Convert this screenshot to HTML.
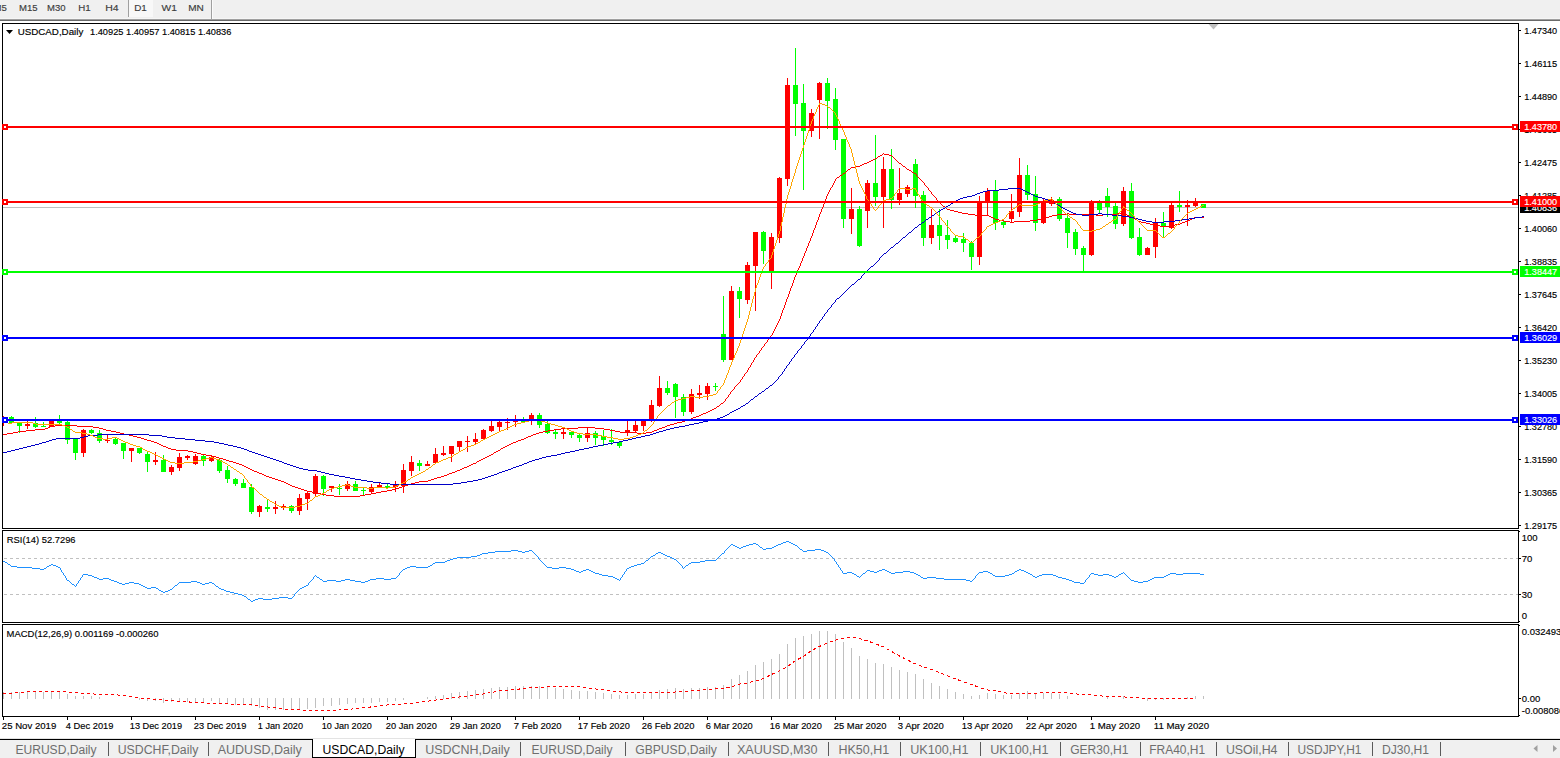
<!DOCTYPE html>
<html><head><meta charset="utf-8"><title>USDCAD,Daily</title>
<style>html,body{margin:0;padding:0;background:#fff;overflow:hidden}svg text{white-space:pre}</style></head>
<body>
<svg width="1560" height="758" viewBox="0 0 1560 758" font-family="Liberation Sans, sans-serif" style="display:block">
<rect x="0" y="0" width="1560" height="758" fill="#fff"/>
<rect x="0" y="0" width="1560" height="18" fill="#f0f0f0"/>
<rect x="0" y="18" width="1560" height="1" fill="#f6f6f6"/>
<rect x="0" y="19" width="1560" height="1" fill="#a0a0a0"/>
<rect x="0" y="20" width="1560" height="1" fill="#696969"/>
<rect x="129" y="0" width="24" height="17" fill="#f8f8f8"/>
<rect x="128" y="0" width="1" height="17" fill="#a0a0a0"/>
<rect x="211" y="0" width="1" height="19" fill="#a0a0a0"/>
<rect x="212" y="0" width="1" height="19" fill="#fbfbfb"/>
<text x="-6.5" y="10.8" font-size="9.6" fill="#3c3c3c" stroke="#3c3c3c" stroke-width="0.15">M5</text>
<text x="19.0" y="10.8" font-size="9.6" fill="#3c3c3c" stroke="#3c3c3c" stroke-width="0.15" textLength="18.6" lengthAdjust="spacingAndGlyphs">M15</text>
<text x="47.1" y="10.8" font-size="9.6" fill="#3c3c3c" stroke="#3c3c3c" stroke-width="0.15" textLength="18.5" lengthAdjust="spacingAndGlyphs">M30</text>
<text x="78.15" y="10.8" font-size="9.6" fill="#3c3c3c" stroke="#3c3c3c" stroke-width="0.15" textLength="12.45" lengthAdjust="spacingAndGlyphs">H1</text>
<text x="105.2" y="10.8" font-size="9.6" fill="#3c3c3c" stroke="#3c3c3c" stroke-width="0.15" textLength="13.4" lengthAdjust="spacingAndGlyphs">H4</text>
<text x="134.2" y="10.8" font-size="9.6" fill="#3c3c3c" stroke="#3c3c3c" stroke-width="0.15" textLength="12.65" lengthAdjust="spacingAndGlyphs">D1</text>
<text x="161.5" y="10.8" font-size="9.6" fill="#3c3c3c" stroke="#3c3c3c" stroke-width="0.15" textLength="15.35" lengthAdjust="spacingAndGlyphs">W1</text>
<text x="188.15" y="10.8" font-size="9.6" fill="#3c3c3c" stroke="#3c3c3c" stroke-width="0.15" textLength="15.65" lengthAdjust="spacingAndGlyphs">MN</text>
<defs><clipPath id="cm"><rect x="3" y="24" width="1515" height="504"/></clipPath><clipPath id="cr"><rect x="3" y="531" width="1515" height="91"/></clipPath><clipPath id="cd"><rect x="3" y="625" width="1515" height="91"/></clipPath></defs>
<g clip-path="url(#cm)" shape-rendering="crispEdges">
<rect x="3" y="207" width="1515" height="1" fill="#c0c0c0"/>
<rect x="3" y="416" width="1" height="10" fill="#ff0000"/>
<rect x="11" y="416" width="1" height="7" fill="#00ff00"/>
<rect x="9" y="417" width="5" height="6" fill="#00ff00"/>
<rect x="19" y="423" width="1" height="10" fill="#00ff00"/>
<rect x="17" y="423" width="5" height="3" fill="#00ff00"/>
<rect x="27" y="421" width="1" height="8" fill="#ff0000"/>
<rect x="25" y="424" width="5" height="2" fill="#ff0000"/>
<rect x="35" y="417" width="1" height="11" fill="#00ff00"/>
<rect x="33" y="423" width="5" height="4" fill="#00ff00"/>
<rect x="43" y="422" width="1" height="5" fill="#00ff00"/>
<rect x="41" y="426" width="5" height="1" fill="#00ff00"/>
<rect x="51" y="421" width="1" height="6" fill="#ff0000"/>
<rect x="49" y="421" width="5" height="6" fill="#ff0000"/>
<rect x="59" y="415" width="1" height="11" fill="#00ff00"/>
<rect x="57" y="421" width="5" height="2" fill="#00ff00"/>
<rect x="67" y="421" width="1" height="23" fill="#00ff00"/>
<rect x="65" y="422" width="5" height="18" fill="#00ff00"/>
<rect x="75" y="439" width="1" height="21" fill="#00ff00"/>
<rect x="73" y="439" width="5" height="14" fill="#00ff00"/>
<rect x="83" y="429" width="1" height="28" fill="#ff0000"/>
<rect x="81" y="430" width="5" height="23" fill="#ff0000"/>
<rect x="91" y="429" width="1" height="5" fill="#00ff00"/>
<rect x="89" y="430" width="5" height="3" fill="#00ff00"/>
<rect x="99" y="430" width="1" height="13" fill="#00ff00"/>
<rect x="97" y="433" width="5" height="8" fill="#00ff00"/>
<rect x="107" y="435" width="1" height="8" fill="#ff0000"/>
<rect x="105" y="440" width="5" height="1" fill="#ff0000"/>
<rect x="115" y="438" width="1" height="7" fill="#00ff00"/>
<rect x="113" y="439" width="5" height="5" fill="#00ff00"/>
<rect x="123" y="443" width="1" height="16" fill="#00ff00"/>
<rect x="121" y="443" width="5" height="8" fill="#00ff00"/>
<rect x="131" y="448" width="1" height="14" fill="#ff0000"/>
<rect x="129" y="448" width="5" height="3" fill="#ff0000"/>
<rect x="139" y="448" width="1" height="6" fill="#00ff00"/>
<rect x="137" y="448" width="5" height="5" fill="#00ff00"/>
<rect x="147" y="452" width="1" height="20" fill="#00ff00"/>
<rect x="145" y="454" width="5" height="8" fill="#00ff00"/>
<rect x="155" y="452" width="1" height="13" fill="#ff0000"/>
<rect x="153" y="460" width="5" height="2" fill="#ff0000"/>
<rect x="163" y="455" width="1" height="17" fill="#00ff00"/>
<rect x="161" y="460" width="5" height="12" fill="#00ff00"/>
<rect x="171" y="465" width="1" height="10" fill="#ff0000"/>
<rect x="169" y="467" width="5" height="5" fill="#ff0000"/>
<rect x="179" y="453" width="1" height="18" fill="#ff0000"/>
<rect x="177" y="457" width="5" height="11" fill="#ff0000"/>
<rect x="187" y="455" width="1" height="5" fill="#ff0000"/>
<rect x="185" y="456" width="5" height="2" fill="#ff0000"/>
<rect x="195" y="454" width="1" height="11" fill="#ff0000"/>
<rect x="193" y="456" width="5" height="8" fill="#ff0000"/>
<rect x="203" y="455" width="1" height="11" fill="#00ff00"/>
<rect x="201" y="456" width="5" height="5" fill="#00ff00"/>
<rect x="211" y="456" width="1" height="6" fill="#ff0000"/>
<rect x="209" y="457" width="5" height="4" fill="#ff0000"/>
<rect x="219" y="459" width="1" height="14" fill="#00ff00"/>
<rect x="217" y="460" width="5" height="11" fill="#00ff00"/>
<rect x="227" y="466" width="1" height="17" fill="#00ff00"/>
<rect x="225" y="470" width="5" height="9" fill="#00ff00"/>
<rect x="235" y="478" width="1" height="8" fill="#00ff00"/>
<rect x="233" y="479" width="5" height="5" fill="#00ff00"/>
<rect x="243" y="479" width="1" height="9" fill="#00ff00"/>
<rect x="241" y="483" width="5" height="5" fill="#00ff00"/>
<rect x="251" y="484" width="1" height="30" fill="#00ff00"/>
<rect x="249" y="487" width="5" height="25" fill="#00ff00"/>
<rect x="259" y="505" width="1" height="12" fill="#ff0000"/>
<rect x="257" y="506" width="5" height="6" fill="#ff0000"/>
<rect x="267" y="500" width="1" height="12" fill="#00ff00"/>
<rect x="265" y="507" width="5" height="2" fill="#00ff00"/>
<rect x="275" y="501" width="1" height="13" fill="#ff0000"/>
<rect x="273" y="507" width="5" height="2" fill="#ff0000"/>
<rect x="283" y="504" width="1" height="6" fill="#ff0000"/>
<rect x="281" y="506" width="5" height="2" fill="#ff0000"/>
<rect x="291" y="505" width="1" height="8" fill="#00ff00"/>
<rect x="289" y="506" width="5" height="5" fill="#00ff00"/>
<rect x="299" y="494" width="1" height="21" fill="#ff0000"/>
<rect x="297" y="498" width="5" height="13" fill="#ff0000"/>
<rect x="307" y="492" width="1" height="18" fill="#ff0000"/>
<rect x="305" y="493" width="5" height="6" fill="#ff0000"/>
<rect x="315" y="474" width="1" height="23" fill="#ff0000"/>
<rect x="313" y="476" width="5" height="18" fill="#ff0000"/>
<rect x="323" y="475" width="1" height="21" fill="#00ff00"/>
<rect x="321" y="476" width="5" height="13" fill="#00ff00"/>
<rect x="331" y="486" width="1" height="6" fill="#ff0000"/>
<rect x="329" y="486" width="5" height="2" fill="#ff0000"/>
<rect x="339" y="484" width="1" height="11" fill="#00ff00"/>
<rect x="337" y="488" width="5" height="1" fill="#00ff00"/>
<rect x="347" y="481" width="1" height="10" fill="#ff0000"/>
<rect x="345" y="484" width="5" height="5" fill="#ff0000"/>
<rect x="355" y="481" width="1" height="10" fill="#00ff00"/>
<rect x="353" y="484" width="5" height="7" fill="#00ff00"/>
<rect x="363" y="487" width="1" height="8" fill="#00ff00"/>
<rect x="361" y="490" width="5" height="1" fill="#00ff00"/>
<rect x="371" y="484" width="1" height="10" fill="#ff0000"/>
<rect x="369" y="487" width="5" height="5" fill="#ff0000"/>
<rect x="379" y="482" width="1" height="6" fill="#ff0000"/>
<rect x="377" y="485" width="5" height="3" fill="#ff0000"/>
<rect x="387" y="484" width="1" height="4" fill="#00ff00"/>
<rect x="385" y="486" width="5" height="2" fill="#00ff00"/>
<rect x="395" y="481" width="1" height="11" fill="#ff0000"/>
<rect x="393" y="484" width="5" height="3" fill="#ff0000"/>
<rect x="403" y="464" width="1" height="29" fill="#ff0000"/>
<rect x="401" y="470" width="5" height="16" fill="#ff0000"/>
<rect x="411" y="456" width="1" height="20" fill="#ff0000"/>
<rect x="409" y="462" width="5" height="9" fill="#ff0000"/>
<rect x="419" y="460" width="1" height="11" fill="#00ff00"/>
<rect x="417" y="463" width="5" height="3" fill="#00ff00"/>
<rect x="427" y="461" width="1" height="5" fill="#ff0000"/>
<rect x="425" y="464" width="5" height="2" fill="#ff0000"/>
<rect x="435" y="448" width="1" height="15" fill="#ff0000"/>
<rect x="433" y="454" width="5" height="9" fill="#ff0000"/>
<rect x="443" y="446" width="1" height="10" fill="#ff0000"/>
<rect x="441" y="453" width="5" height="2" fill="#ff0000"/>
<rect x="451" y="446" width="1" height="16" fill="#ff0000"/>
<rect x="449" y="446" width="5" height="8" fill="#ff0000"/>
<rect x="459" y="441" width="1" height="10" fill="#ff0000"/>
<rect x="457" y="441" width="5" height="6" fill="#ff0000"/>
<rect x="467" y="436" width="1" height="16" fill="#ff0000"/>
<rect x="465" y="441" width="5" height="1" fill="#ff0000"/>
<rect x="475" y="433" width="1" height="11" fill="#ff0000"/>
<rect x="473" y="439" width="5" height="3" fill="#ff0000"/>
<rect x="483" y="429" width="1" height="11" fill="#ff0000"/>
<rect x="481" y="430" width="5" height="9" fill="#ff0000"/>
<rect x="491" y="421" width="1" height="11" fill="#ff0000"/>
<rect x="489" y="426" width="5" height="5" fill="#ff0000"/>
<rect x="499" y="419" width="1" height="13" fill="#ff0000"/>
<rect x="497" y="422" width="5" height="5" fill="#ff0000"/>
<rect x="507" y="418" width="1" height="12" fill="#ff0000"/>
<rect x="505" y="422" width="5" height="1" fill="#ff0000"/>
<rect x="515" y="415" width="1" height="12" fill="#ff0000"/>
<rect x="513" y="420" width="5" height="2" fill="#ff0000"/>
<rect x="523" y="417" width="1" height="5" fill="#00ff00"/>
<rect x="521" y="419" width="5" height="3" fill="#00ff00"/>
<rect x="531" y="413" width="1" height="12" fill="#ff0000"/>
<rect x="529" y="415" width="5" height="6" fill="#ff0000"/>
<rect x="539" y="413" width="1" height="15" fill="#00ff00"/>
<rect x="537" y="415" width="5" height="10" fill="#00ff00"/>
<rect x="547" y="421" width="1" height="13" fill="#00ff00"/>
<rect x="545" y="424" width="5" height="9" fill="#00ff00"/>
<rect x="555" y="430" width="1" height="9" fill="#00ff00"/>
<rect x="553" y="432" width="5" height="2" fill="#00ff00"/>
<rect x="563" y="428" width="1" height="11" fill="#ff0000"/>
<rect x="561" y="432" width="5" height="2" fill="#ff0000"/>
<rect x="571" y="431" width="1" height="7" fill="#00ff00"/>
<rect x="569" y="432" width="5" height="3" fill="#00ff00"/>
<rect x="579" y="434" width="1" height="8" fill="#00ff00"/>
<rect x="577" y="435" width="5" height="3" fill="#00ff00"/>
<rect x="587" y="427" width="1" height="15" fill="#ff0000"/>
<rect x="585" y="433" width="5" height="5" fill="#ff0000"/>
<rect x="595" y="431" width="1" height="14" fill="#00ff00"/>
<rect x="593" y="433" width="5" height="5" fill="#00ff00"/>
<rect x="603" y="430" width="1" height="16" fill="#00ff00"/>
<rect x="601" y="436" width="5" height="4" fill="#00ff00"/>
<rect x="611" y="429" width="1" height="16" fill="#00ff00"/>
<rect x="609" y="440" width="5" height="2" fill="#00ff00"/>
<rect x="619" y="441" width="1" height="7" fill="#00ff00"/>
<rect x="617" y="442" width="5" height="4" fill="#00ff00"/>
<rect x="627" y="421" width="1" height="15" fill="#ff0000"/>
<rect x="625" y="430" width="5" height="3" fill="#ff0000"/>
<rect x="635" y="421" width="1" height="11" fill="#ff0000"/>
<rect x="633" y="425" width="5" height="6" fill="#ff0000"/>
<rect x="643" y="419" width="1" height="12" fill="#ff0000"/>
<rect x="641" y="421" width="5" height="5" fill="#ff0000"/>
<rect x="651" y="400" width="1" height="22" fill="#ff0000"/>
<rect x="649" y="405" width="5" height="15" fill="#ff0000"/>
<rect x="659" y="376" width="1" height="31" fill="#ff0000"/>
<rect x="657" y="388" width="5" height="18" fill="#ff0000"/>
<rect x="667" y="381" width="1" height="14" fill="#00ff00"/>
<rect x="665" y="388" width="5" height="5" fill="#00ff00"/>
<rect x="675" y="383" width="1" height="35" fill="#00ff00"/>
<rect x="673" y="384" width="5" height="13" fill="#00ff00"/>
<rect x="683" y="394" width="1" height="22" fill="#00ff00"/>
<rect x="681" y="397" width="5" height="15" fill="#00ff00"/>
<rect x="691" y="389" width="1" height="25" fill="#ff0000"/>
<rect x="689" y="394" width="5" height="18" fill="#ff0000"/>
<rect x="699" y="385" width="1" height="14" fill="#ff0000"/>
<rect x="697" y="393" width="5" height="2" fill="#ff0000"/>
<rect x="707" y="383" width="1" height="17" fill="#ff0000"/>
<rect x="705" y="386" width="5" height="8" fill="#ff0000"/>
<rect x="715" y="383" width="1" height="8" fill="#00ff00"/>
<rect x="713" y="386" width="5" height="1" fill="#00ff00"/>
<rect x="723" y="296" width="1" height="66" fill="#00ff00"/>
<rect x="721" y="334" width="5" height="26" fill="#00ff00"/>
<rect x="731" y="286" width="1" height="74" fill="#ff0000"/>
<rect x="729" y="291" width="5" height="69" fill="#ff0000"/>
<rect x="739" y="287" width="1" height="31" fill="#00ff00"/>
<rect x="737" y="291" width="5" height="8" fill="#00ff00"/>
<rect x="747" y="262" width="1" height="42" fill="#ff0000"/>
<rect x="745" y="265" width="5" height="35" fill="#ff0000"/>
<rect x="755" y="232" width="1" height="79" fill="#ff0000"/>
<rect x="753" y="232" width="5" height="34" fill="#ff0000"/>
<rect x="763" y="231" width="1" height="33" fill="#00ff00"/>
<rect x="761" y="232" width="5" height="19" fill="#00ff00"/>
<rect x="771" y="233" width="1" height="56" fill="#ff0000"/>
<rect x="769" y="237" width="5" height="35" fill="#ff0000"/>
<rect x="779" y="177" width="1" height="66" fill="#ff0000"/>
<rect x="777" y="178" width="5" height="60" fill="#ff0000"/>
<rect x="787" y="78" width="1" height="108" fill="#ff0000"/>
<rect x="785" y="85" width="5" height="94" fill="#ff0000"/>
<rect x="795" y="48" width="1" height="88" fill="#00ff00"/>
<rect x="793" y="85" width="5" height="19" fill="#00ff00"/>
<rect x="803" y="84" width="1" height="106" fill="#00ff00"/>
<rect x="801" y="103" width="5" height="28" fill="#00ff00"/>
<rect x="811" y="109" width="1" height="28" fill="#ff0000"/>
<rect x="809" y="113" width="5" height="18" fill="#ff0000"/>
<rect x="819" y="82" width="1" height="57" fill="#ff0000"/>
<rect x="817" y="83" width="5" height="17" fill="#ff0000"/>
<rect x="827" y="78" width="1" height="51" fill="#00ff00"/>
<rect x="825" y="83" width="5" height="18" fill="#00ff00"/>
<rect x="835" y="88" width="1" height="62" fill="#00ff00"/>
<rect x="833" y="99" width="5" height="41" fill="#00ff00"/>
<rect x="843" y="139" width="1" height="89" fill="#00ff00"/>
<rect x="841" y="139" width="5" height="80" fill="#00ff00"/>
<rect x="851" y="188" width="1" height="46" fill="#ff0000"/>
<rect x="849" y="209" width="5" height="10" fill="#ff0000"/>
<rect x="859" y="206" width="1" height="41" fill="#00ff00"/>
<rect x="857" y="209" width="5" height="37" fill="#00ff00"/>
<rect x="867" y="180" width="1" height="48" fill="#ff0000"/>
<rect x="865" y="183" width="5" height="28" fill="#ff0000"/>
<rect x="875" y="135" width="1" height="71" fill="#00ff00"/>
<rect x="873" y="183" width="5" height="14" fill="#00ff00"/>
<rect x="883" y="157" width="1" height="71" fill="#ff0000"/>
<rect x="881" y="169" width="5" height="28" fill="#ff0000"/>
<rect x="891" y="149" width="1" height="60" fill="#00ff00"/>
<rect x="889" y="169" width="5" height="31" fill="#00ff00"/>
<rect x="899" y="168" width="1" height="37" fill="#ff0000"/>
<rect x="897" y="193" width="5" height="7" fill="#ff0000"/>
<rect x="907" y="185" width="1" height="12" fill="#ff0000"/>
<rect x="905" y="187" width="5" height="7" fill="#ff0000"/>
<rect x="915" y="159" width="1" height="49" fill="#00ff00"/>
<rect x="913" y="164" width="5" height="32" fill="#00ff00"/>
<rect x="923" y="191" width="1" height="55" fill="#00ff00"/>
<rect x="921" y="195" width="5" height="43" fill="#00ff00"/>
<rect x="931" y="209" width="1" height="35" fill="#ff0000"/>
<rect x="929" y="225" width="5" height="13" fill="#ff0000"/>
<rect x="939" y="209" width="1" height="41" fill="#00ff00"/>
<rect x="937" y="225" width="5" height="11" fill="#00ff00"/>
<rect x="947" y="220" width="1" height="29" fill="#00ff00"/>
<rect x="945" y="235" width="5" height="5" fill="#00ff00"/>
<rect x="955" y="236" width="1" height="7" fill="#00ff00"/>
<rect x="953" y="238" width="5" height="4" fill="#00ff00"/>
<rect x="963" y="233" width="1" height="19" fill="#00ff00"/>
<rect x="961" y="239" width="5" height="4" fill="#00ff00"/>
<rect x="971" y="241" width="1" height="29" fill="#00ff00"/>
<rect x="969" y="243" width="5" height="14" fill="#00ff00"/>
<rect x="979" y="196" width="1" height="69" fill="#ff0000"/>
<rect x="977" y="202" width="5" height="55" fill="#ff0000"/>
<rect x="987" y="188" width="1" height="28" fill="#ff0000"/>
<rect x="985" y="191" width="5" height="11" fill="#ff0000"/>
<rect x="995" y="180" width="1" height="50" fill="#00ff00"/>
<rect x="993" y="191" width="5" height="32" fill="#00ff00"/>
<rect x="1003" y="221" width="1" height="7" fill="#00ff00"/>
<rect x="1001" y="222" width="5" height="3" fill="#00ff00"/>
<rect x="1011" y="194" width="1" height="29" fill="#ff0000"/>
<rect x="1009" y="211" width="5" height="8" fill="#ff0000"/>
<rect x="1019" y="158" width="1" height="59" fill="#ff0000"/>
<rect x="1017" y="175" width="5" height="37" fill="#ff0000"/>
<rect x="1027" y="165" width="1" height="35" fill="#00ff00"/>
<rect x="1025" y="175" width="5" height="20" fill="#00ff00"/>
<rect x="1035" y="176" width="1" height="55" fill="#00ff00"/>
<rect x="1033" y="194" width="5" height="29" fill="#00ff00"/>
<rect x="1043" y="199" width="1" height="25" fill="#ff0000"/>
<rect x="1041" y="202" width="5" height="21" fill="#ff0000"/>
<rect x="1051" y="197" width="1" height="9" fill="#ff0000"/>
<rect x="1049" y="200" width="5" height="4" fill="#ff0000"/>
<rect x="1059" y="197" width="1" height="24" fill="#00ff00"/>
<rect x="1057" y="199" width="5" height="20" fill="#00ff00"/>
<rect x="1067" y="213" width="1" height="35" fill="#00ff00"/>
<rect x="1065" y="218" width="5" height="15" fill="#00ff00"/>
<rect x="1075" y="229" width="1" height="26" fill="#00ff00"/>
<rect x="1073" y="232" width="5" height="17" fill="#00ff00"/>
<rect x="1083" y="246" width="1" height="26" fill="#00ff00"/>
<rect x="1081" y="248" width="5" height="7" fill="#00ff00"/>
<rect x="1091" y="200" width="1" height="56" fill="#ff0000"/>
<rect x="1089" y="202" width="5" height="53" fill="#ff0000"/>
<rect x="1099" y="200" width="1" height="14" fill="#00ff00"/>
<rect x="1097" y="203" width="5" height="7" fill="#00ff00"/>
<rect x="1107" y="188" width="1" height="29" fill="#00ff00"/>
<rect x="1105" y="196" width="5" height="11" fill="#00ff00"/>
<rect x="1115" y="203" width="1" height="26" fill="#00ff00"/>
<rect x="1113" y="206" width="5" height="18" fill="#00ff00"/>
<rect x="1123" y="187" width="1" height="39" fill="#ff0000"/>
<rect x="1121" y="191" width="5" height="33" fill="#ff0000"/>
<rect x="1131" y="183" width="1" height="56" fill="#00ff00"/>
<rect x="1129" y="191" width="5" height="47" fill="#00ff00"/>
<rect x="1139" y="228" width="1" height="28" fill="#00ff00"/>
<rect x="1137" y="237" width="5" height="18" fill="#00ff00"/>
<rect x="1147" y="247" width="1" height="8" fill="#ff0000"/>
<rect x="1145" y="248" width="5" height="7" fill="#ff0000"/>
<rect x="1155" y="218" width="1" height="40" fill="#ff0000"/>
<rect x="1153" y="223" width="5" height="24" fill="#ff0000"/>
<rect x="1163" y="212" width="1" height="25" fill="#00ff00"/>
<rect x="1161" y="223" width="5" height="4" fill="#00ff00"/>
<rect x="1171" y="203" width="1" height="26" fill="#ff0000"/>
<rect x="1169" y="205" width="5" height="23" fill="#ff0000"/>
<rect x="1179" y="191" width="1" height="21" fill="#00ff00"/>
<rect x="1177" y="205" width="5" height="2" fill="#00ff00"/>
<rect x="1187" y="200" width="1" height="26" fill="#ff0000"/>
<rect x="1185" y="205" width="5" height="2" fill="#ff0000"/>
<rect x="1195" y="198" width="1" height="9" fill="#ff0000"/>
<rect x="1193" y="202" width="5" height="4" fill="#ff0000"/>
<rect x="1203" y="204" width="1" height="4" fill="#00ff00"/>
<rect x="1201" y="204" width="5" height="4" fill="#00ff00"/>
<path d="M3 434h4v1h-4zM7 433h6v1h-6zM13 432h5v1h-5zM18 431h8v1h-8zM26 430h9v1h-9zM35 429h10v1h-10zM45 428h3v1h-3zM48 427h2v1h-2zM50 426h5v1h-5zM55 425h22v1h-22zM77 426h16v1h-16zM93 427h6v1h-6zM99 428h4v1h-4zM103 429h3v1h-3zM106 430h5v1h-5zM111 431h5v1h-5zM116 432h4v1h-4zM120 433h4v1h-4zM124 434h5v1h-5zM129 435h4v1h-4zM133 436h4v1h-4zM137 437h4v1h-4zM141 438h3v1h-3zM144 439h3v1h-3zM147 440h4v1h-4zM151 441h3v1h-3zM154 442h3v1h-3zM157 443h2v1h-2zM159 444h2v1h-2zM161 445h2v1h-2zM163 446h3v1h-3zM166 447h2v1h-2zM168 448h3v1h-3zM171 449h5v1h-5zM176 450h12v1h-12zM188 451h5v1h-5zM193 452h4v1h-4zM197 453h4v1h-4zM201 454h5v1h-5zM206 455h6v1h-6zM212 456h4v1h-4zM216 457h3v1h-3zM219 458h4v1h-4zM223 459h3v1h-3zM226 460h3v1h-3zM229 461h4v1h-4zM233 462h3v1h-3zM236 463h3v1h-3zM239 464h3v1h-3zM242 465h2v1h-2zM244 466h2v1h-2zM246 467h2v1h-2zM248 468h2v1h-2zM250 469h2v1h-2zM252 470h2v1h-2zM254 471h3v1h-3zM257 472h2v1h-2zM259 473h3v1h-3zM262 474h2v1h-2zM264 475h2v1h-2zM266 476h3v1h-3zM269 477h3v1h-3zM272 478h3v1h-3zM275 479h3v1h-3zM278 480h3v1h-3zM281 481h3v1h-3zM284 482h2v1h-2zM286 483h2v1h-2zM288 484h2v1h-2zM290 485h2v1h-2zM292 486h3v1h-3zM295 487h3v1h-3zM298 488h3v1h-3zM301 489h3v1h-3zM304 490h3v1h-3zM307 491h5v1h-5zM312 492h6v1h-6zM318 493h3v1h-3zM321 494h5v1h-5zM326 495h8v1h-8zM334 496h26v1h-26zM360 495h5v1h-5zM365 494h6v1h-6zM371 493h5v1h-5zM376 492h5v1h-5zM381 491h6v1h-6zM387 490h5v1h-5zM392 489h4v1h-4zM396 488h3v1h-3zM399 487h3v1h-3zM402 486h3v1h-3zM405 485h3v1h-3zM408 484h3v1h-3zM411 483h4v1h-4zM415 482h4v1h-4zM419 481h9v1h-9zM428 480h3v1h-3zM431 479h3v1h-3zM434 478h3v1h-3zM437 477h4v1h-4zM441 476h3v1h-3zM444 475h3v1h-3zM447 474h2v1h-2zM449 473h3v1h-3zM452 472h3v1h-3zM455 471h2v1h-2zM457 470h3v1h-3zM460 469h2v1h-2zM462 468h2v1h-2zM464 467h3v1h-3zM467 466h2v1h-2zM469 465h2v1h-2zM471 464h2v1h-2zM473 463h3v1h-3zM476 462h1v1h-1zM477 461h2v1h-2zM479 460h2v1h-2zM481 459h2v1h-2zM483 458h2v1h-2zM485 457h2v1h-2zM487 456h2v1h-2zM489 455h2v1h-2zM491 454h2v1h-2zM493 453h1v1h-1zM494 452h2v1h-2zM496 451h2v1h-2zM498 450h2v1h-2zM500 449h1v1h-1zM501 448h2v1h-2zM503 447h2v1h-2zM505 446h2v1h-2zM507 445h2v1h-2zM509 444h2v1h-2zM511 443h2v1h-2zM513 442h3v1h-3zM516 441h2v1h-2zM518 440h3v1h-3zM521 439h3v1h-3zM524 438h2v1h-2zM526 437h2v1h-2zM528 436h3v1h-3zM531 435h2v1h-2zM533 434h3v1h-3zM536 433h3v1h-3zM539 432h4v1h-4zM543 431h5v1h-5zM548 430h6v1h-6zM554 429h7v1h-7zM561 428h17v1h-17zM578 427h17v1h-17zM595 428h9v1h-9zM604 429h6v1h-6zM610 430h5v1h-5zM615 431h5v1h-5zM620 432h17v1h-17zM637 433h9v1h-9zM646 432h6v1h-6zM652 431h2v1h-2zM654 430h3v1h-3zM657 429h2v1h-2zM659 428h3v1h-3zM662 427h3v1h-3zM665 426h2v1h-2zM667 425h3v1h-3zM670 424h4v1h-4zM674 423h3v1h-3zM677 422h5v1h-5zM682 421h3v1h-3zM685 420h3v1h-3zM688 419h3v1h-3zM691 418h2v1h-2zM693 417h3v1h-3zM696 416h3v1h-3zM699 415h2v1h-2zM701 414h2v1h-2zM703 413h3v1h-3zM706 412h2v1h-2zM708 411h2v1h-2zM710 410h2v1h-2zM712 409h2v1h-2zM714 408h2v1h-2zM716 407h1v1h-1zM717 406h2v1h-2zM719 405h1v1h-1zM720 404h1v1h-1zM721 403h2v1h-2zM723 402h1v1h-1zM724 401h1v1h-1zM725 399h1v2h-1zM726 398h1v1h-1zM727 397h1v1h-1zM728 395h1v2h-1zM729 394h1v1h-1zM730 392h1v2h-1zM731 391h1v1h-1zM732 390h1v1h-1zM733 389h1v1h-1zM734 387h1v2h-1zM735 386h1v1h-1zM736 385h1v1h-1zM737 384h1v1h-1zM738 383h1v1h-1zM739 382h1v1h-1zM740 380h1v2h-1zM741 379h1v1h-1zM742 377h1v2h-1zM743 376h1v1h-1zM744 374h1v2h-1zM745 373h1v1h-1zM746 372h1v1h-1zM747 370h1v2h-1zM748 368h1v2h-1zM749 367h1v1h-1zM750 365h1v2h-1zM751 363h1v2h-1zM752 362h1v1h-1zM753 360h1v2h-1zM754 358h1v2h-1zM755 357h1v1h-1zM756 355h1v2h-1zM757 354h1v1h-1zM758 353h1v1h-1zM759 351h1v2h-1zM760 350h1v1h-1zM761 348h1v2h-1zM762 347h1v1h-1zM763 346h1v1h-1zM764 344h1v2h-1zM765 343h1v1h-1zM766 342h1v1h-1zM767 340h1v2h-1zM768 339h1v1h-1zM769 337h1v2h-1zM770 336h1v1h-1zM771 335h1v1h-1zM772 333h1v2h-1zM773 331h1v2h-1zM774 329h1v2h-1zM775 327h1v2h-1zM776 325h1v2h-1zM777 323h1v2h-1zM778 321h1v2h-1zM779 319h1v2h-1zM780 316h1v3h-1zM781 313h1v3h-1zM782 310h1v3h-1zM783 308h1v2h-1zM784 305h1v3h-1zM785 302h1v3h-1zM786 299h1v3h-1zM787 297h1v2h-1zM788 294h1v3h-1zM789 291h1v3h-1zM790 288h1v3h-1zM791 286h1v2h-1zM792 283h1v3h-1zM793 280h1v3h-1zM794 277h1v3h-1zM795 275h1v2h-1zM796 273h1v2h-1zM797 270h1v3h-1zM798 268h1v2h-1zM799 266h1v2h-1zM800 263h1v3h-1zM801 261h1v2h-1zM802 258h1v3h-1zM803 256h1v2h-1zM804 253h1v3h-1zM805 251h1v2h-1zM806 248h1v3h-1zM807 246h1v2h-1zM808 243h1v3h-1zM809 241h1v2h-1zM810 238h1v3h-1zM811 236h1v2h-1zM812 233h1v3h-1zM813 230h1v3h-1zM814 228h1v2h-1zM815 225h1v3h-1zM816 222h1v3h-1zM817 220h1v2h-1zM818 217h1v3h-1zM819 214h1v3h-1zM820 212h1v2h-1zM821 209h1v3h-1zM822 207h1v2h-1zM823 204h1v3h-1zM824 201h1v3h-1zM825 199h1v2h-1zM826 196h1v3h-1zM827 194h1v2h-1zM828 192h1v2h-1zM829 190h1v2h-1zM830 188h1v2h-1zM831 187h1v1h-1zM832 185h1v2h-1zM833 183h1v2h-1zM834 181h1v2h-1zM835 179h1v2h-1zM836 178h1v1h-1zM837 177h2v1h-2zM839 176h1v1h-1zM840 175h2v1h-2zM842 174h1v1h-1zM843 173h2v1h-2zM845 172h1v1h-1zM846 171h1v1h-1zM847 170h1v1h-1zM848 169h2v1h-2zM850 168h1v1h-1zM851 167h4v1h-4zM855 166h5v1h-5zM860 165h2v1h-2zM862 164h2v1h-2zM864 163h3v1h-3zM867 162h2v1h-2zM869 161h2v1h-2zM871 160h2v1h-2zM873 159h2v1h-2zM875 158h2v1h-2zM877 157h1v1h-1zM878 156h2v1h-2zM880 155h2v1h-2zM882 154h1v1h-1zM883 153h1v1h-1zM884 154h5v1h-5zM889 155h3v1h-3zM892 156h1v1h-1zM893 157h1v1h-1zM894 158h1v1h-1zM895 159h1v1h-1zM896 160h1v1h-1zM897 161h1v1h-1zM898 162h1v1h-1zM899 163h2v1h-2zM901 164h1v1h-1zM902 165h1v1h-1zM903 166h2v1h-2zM905 167h1v1h-1zM906 168h1v1h-1zM907 169h2v1h-2zM909 170h2v1h-2zM911 171h1v1h-1zM912 172h2v1h-2zM914 173h2v1h-2zM916 174h1v2h-1zM917 176h1v1h-1zM918 177h1v1h-1zM919 178h1v1h-1zM920 179h1v1h-1zM921 180h1v1h-1zM922 181h1v1h-1zM923 182h1v1h-1zM924 183h1v2h-1zM925 185h1v1h-1zM926 186h1v1h-1zM927 187h1v1h-1zM928 188h1v2h-1zM929 190h1v1h-1zM930 191h1v1h-1zM931 192h1v2h-1zM932 194h1v1h-1zM933 195h1v1h-1zM934 196h1v1h-1zM935 197h1v1h-1zM936 198h1v2h-1zM937 200h1v1h-1zM938 201h1v1h-1zM939 202h1v1h-1zM940 203h1v1h-1zM941 204h1v1h-1zM942 205h1v1h-1zM943 206h2v1h-2zM945 207h1v1h-1zM946 208h1v1h-1zM947 209h3v1h-3zM950 210h4v1h-4zM954 211h4v1h-4zM958 212h4v1h-4zM962 213h6v1h-6zM968 214h7v1h-7zM975 215h14v1h-14zM989 216h2v1h-2zM991 217h2v1h-2zM993 218h2v1h-2zM995 219h4v1h-4zM999 220h5v1h-5zM1004 221h6v1h-6zM1010 222h4v1h-4zM1014 221h16v1h-16zM1030 220h7v1h-7zM1037 219h4v1h-4zM1041 218h4v1h-4zM1045 217h4v1h-4zM1049 216h3v1h-3zM1052 215h5v1h-5zM1057 214h10v1h-10zM1067 213h2v1h-2zM1069 214h27v1h-27zM1096 215h7v1h-7zM1103 214h14v1h-14zM1117 213h6v1h-6zM1123 212h1v1h-1zM1124 213h2v1h-2zM1126 214h1v1h-1zM1127 215h2v1h-2zM1129 216h2v1h-2zM1131 217h2v1h-2zM1133 218h2v1h-2zM1135 219h2v1h-2zM1137 220h1v1h-1zM1138 221h3v1h-3zM1141 222h5v1h-5zM1146 223h4v1h-4zM1150 224h6v1h-6zM1156 225h4v1h-4zM1160 226h10v1h-10zM1170 225h5v1h-5zM1175 224h5v1h-5zM1180 223h2v1h-2zM1182 222h3v1h-3zM1185 221h2v1h-2zM1187 220h3v1h-3zM1190 219h2v1h-2zM1192 218h2v1h-2zM1194 217h10v1h-10z" fill="#ff0000"/>
<path d="M3 452h4v1h-4zM7 451h4v1h-4zM11 450h4v1h-4zM15 449h4v1h-4zM19 448h4v1h-4zM23 447h4v1h-4zM27 446h4v1h-4zM31 445h4v1h-4zM35 444h4v1h-4zM39 443h3v1h-3zM42 442h4v1h-4zM46 441h3v1h-3zM49 440h3v1h-3zM52 439h4v1h-4zM56 438h24v1h-24zM80 437h4v1h-4zM84 436h4v1h-4zM88 435h10v1h-10zM98 434h51v1h-51zM149 435h13v1h-13zM162 436h5v1h-5zM167 437h8v1h-8zM175 438h10v1h-10zM185 439h10v1h-10zM195 440h10v1h-10zM205 441h9v1h-9zM214 442h5v1h-5zM219 443h5v1h-5zM224 444h4v1h-4zM228 445h5v1h-5zM233 446h4v1h-4zM237 447h4v1h-4zM241 448h3v1h-3zM244 449h3v1h-3zM247 450h2v1h-2zM249 451h3v1h-3zM252 452h3v1h-3zM255 453h3v1h-3zM258 454h3v1h-3zM261 455h3v1h-3zM264 456h3v1h-3zM267 457h3v1h-3zM270 458h3v1h-3zM273 459h3v1h-3zM276 460h3v1h-3zM279 461h3v1h-3zM282 462h2v1h-2zM284 463h3v1h-3zM287 464h3v1h-3zM290 465h3v1h-3zM293 466h3v1h-3zM296 467h3v1h-3zM299 468h4v1h-4zM303 469h5v1h-5zM308 470h9v1h-9zM317 471h4v1h-4zM321 472h4v1h-4zM325 473h4v1h-4zM329 474h5v1h-5zM334 475h5v1h-5zM339 476h6v1h-6zM345 477h5v1h-5zM350 478h5v1h-5zM355 479h6v1h-6zM361 480h6v1h-6zM367 481h6v1h-6zM373 482h8v1h-8zM381 483h9v1h-9zM390 484h63v1h-63zM453 483h8v1h-8zM461 482h6v1h-6zM467 481h6v1h-6zM473 480h5v1h-5zM478 479h4v1h-4zM482 478h3v1h-3zM485 477h3v1h-3zM488 476h3v1h-3zM491 475h3v1h-3zM494 474h3v1h-3zM497 473h2v1h-2zM499 472h3v1h-3zM502 471h3v1h-3zM505 470h3v1h-3zM508 469h3v1h-3zM511 468h2v1h-2zM513 467h3v1h-3zM516 466h3v1h-3zM519 465h3v1h-3zM522 464h2v1h-2zM524 463h3v1h-3zM527 462h2v1h-2zM529 461h3v1h-3zM532 460h3v1h-3zM535 459h4v1h-4zM539 458h3v1h-3zM542 457h4v1h-4zM546 456h5v1h-5zM551 455h6v1h-6zM557 454h4v1h-4zM561 453h4v1h-4zM565 452h5v1h-5zM570 451h5v1h-5zM575 450h4v1h-4zM579 449h5v1h-5zM584 448h5v1h-5zM589 447h4v1h-4zM593 446h5v1h-5zM598 445h5v1h-5zM603 444h5v1h-5zM608 443h5v1h-5zM613 442h6v1h-6zM619 441h4v1h-4zM623 440h5v1h-5zM628 439h4v1h-4zM632 438h4v1h-4zM636 437h5v1h-5zM641 436h4v1h-4zM645 435h5v1h-5zM650 434h3v1h-3zM653 433h3v1h-3zM656 432h3v1h-3zM659 431h4v1h-4zM663 430h3v1h-3zM666 429h4v1h-4zM670 428h4v1h-4zM674 427h5v1h-5zM679 426h6v1h-6zM685 425h4v1h-4zM689 424h5v1h-5zM694 423h5v1h-5zM699 422h4v1h-4zM703 421h5v1h-5zM708 420h4v1h-4zM712 419h5v1h-5zM717 418h3v1h-3zM720 417h3v1h-3zM723 416h2v1h-2zM725 415h2v1h-2zM727 414h2v1h-2zM729 413h1v1h-1zM730 412h2v1h-2zM732 411h2v1h-2zM734 410h2v1h-2zM736 409h2v1h-2zM738 408h2v1h-2zM740 407h1v1h-1zM741 406h2v1h-2zM743 405h2v1h-2zM745 404h1v1h-1zM746 403h2v1h-2zM748 402h1v1h-1zM749 401h1v1h-1zM750 400h1v1h-1zM751 399h2v1h-2zM753 398h1v1h-1zM754 397h1v1h-1zM755 396h2v1h-2zM757 395h1v1h-1zM758 394h1v1h-1zM759 393h2v1h-2zM761 392h1v1h-1zM762 391h2v1h-2zM764 390h1v1h-1zM765 389h1v1h-1zM766 388h2v1h-2zM768 387h1v1h-1zM769 386h1v1h-1zM770 385h2v1h-2zM772 384h1v1h-1zM773 383h1v1h-1zM774 382h1v1h-1zM775 381h1v1h-1zM776 380h1v1h-1zM777 379h1v1h-1zM778 377h1v2h-1zM779 376h1v1h-1zM780 375h1v1h-1zM781 374h1v1h-1zM782 372h1v2h-1zM783 371h1v1h-1zM784 369h1v2h-1zM785 368h1v1h-1zM786 366h1v2h-1zM787 365h1v1h-1zM788 364h1v1h-1zM789 362h1v2h-1zM790 361h1v1h-1zM791 359h1v2h-1zM792 358h1v1h-1zM793 357h1v1h-1zM794 355h1v2h-1zM795 354h1v1h-1zM796 353h1v1h-1zM797 351h1v2h-1zM798 350h1v1h-1zM799 349h1v1h-1zM800 348h1v1h-1zM801 346h1v2h-1zM802 345h1v1h-1zM803 344h1v1h-1zM804 342h1v2h-1zM805 341h1v1h-1zM806 340h1v1h-1zM807 338h1v2h-1zM808 337h1v1h-1zM809 336h1v1h-1zM810 334h1v2h-1zM811 333h1v1h-1zM812 332h1v1h-1zM813 330h1v2h-1zM814 329h1v1h-1zM815 327h1v2h-1zM816 326h1v1h-1zM817 324h1v2h-1zM818 323h1v1h-1zM819 321h1v2h-1zM820 320h1v1h-1zM821 319h1v1h-1zM822 317h1v2h-1zM823 316h1v1h-1zM824 314h1v2h-1zM825 313h1v1h-1zM826 312h1v1h-1zM827 310h1v2h-1zM828 309h1v1h-1zM829 308h1v1h-1zM830 307h1v1h-1zM831 305h1v2h-1zM832 304h1v1h-1zM833 303h1v1h-1zM834 302h1v1h-1zM835 300h1v2h-1zM836 299h1v1h-1zM837 298h2v1h-2zM839 297h1v1h-1zM840 296h1v1h-1zM841 295h1v1h-1zM842 294h1v1h-1zM843 293h1v1h-1zM844 292h1v1h-1zM845 291h1v1h-1zM846 290h1v1h-1zM847 289h1v1h-1zM848 288h1v1h-1zM849 287h1v1h-1zM850 286h1v1h-1zM851 285h1v1h-1zM852 284h2v1h-2zM854 283h1v1h-1zM855 282h1v1h-1zM856 281h1v1h-1zM857 280h1v1h-1zM858 279h2v1h-2zM860 278h1v1h-1zM861 276h1v2h-1zM862 275h1v1h-1zM863 274h1v1h-1zM864 273h1v1h-1zM865 272h1v1h-1zM866 271h1v1h-1zM867 270h1v1h-1zM868 269h1v1h-1zM869 268h1v1h-1zM870 267h1v1h-1zM871 266h2v1h-2zM873 265h1v1h-1zM874 264h1v1h-1zM875 263h1v1h-1zM876 262h1v1h-1zM877 261h1v1h-1zM878 260h1v1h-1zM879 258h1v2h-1zM880 257h1v1h-1zM881 256h1v1h-1zM882 255h1v1h-1zM883 254h1v1h-1zM884 253h2v1h-2zM886 252h1v1h-1zM887 251h1v1h-1zM888 250h1v1h-1zM889 249h1v1h-1zM890 248h1v1h-1zM891 247h2v1h-2zM893 246h1v1h-1zM894 245h1v1h-1zM895 244h1v1h-1zM896 243h2v1h-2zM898 242h1v1h-1zM899 241h1v1h-1zM900 240h1v1h-1zM901 239h1v1h-1zM902 238h1v1h-1zM903 237h2v1h-2zM905 236h1v1h-1zM906 235h1v1h-1zM907 234h1v1h-1zM908 233h1v1h-1zM909 232h2v1h-2zM911 231h1v1h-1zM912 230h1v1h-1zM913 229h1v1h-1zM914 228h1v1h-1zM915 227h2v1h-2zM917 226h1v1h-1zM918 225h1v1h-1zM919 224h2v1h-2zM921 223h1v1h-1zM922 222h2v1h-2zM924 221h1v1h-1zM925 220h1v1h-1zM926 219h2v1h-2zM928 218h1v1h-1zM929 217h2v1h-2zM931 216h1v1h-1zM932 215h2v1h-2zM934 214h1v1h-1zM935 213h2v1h-2zM937 212h1v1h-1zM938 211h2v1h-2zM940 210h1v1h-1zM941 209h2v1h-2zM943 208h2v1h-2zM945 207h1v1h-1zM946 206h2v1h-2zM948 205h2v1h-2zM950 204h1v1h-1zM951 203h2v1h-2zM953 202h2v1h-2zM955 201h1v1h-1zM956 200h2v1h-2zM958 199h2v1h-2zM960 198h3v1h-3zM963 197h4v1h-4zM967 196h5v1h-5zM972 195h3v1h-3zM975 194h2v1h-2zM977 193h3v1h-3zM980 192h3v1h-3zM983 191h4v1h-4zM987 190h12v1h-12zM999 189h9v1h-9zM1008 188h13v1h-13zM1021 189h2v1h-2zM1023 190h2v1h-2zM1025 191h2v1h-2zM1027 192h2v1h-2zM1029 193h2v1h-2zM1031 194h2v1h-2zM1033 195h2v1h-2zM1035 196h3v1h-3zM1038 197h4v1h-4zM1042 198h3v1h-3zM1045 199h3v1h-3zM1048 200h2v1h-2zM1050 201h3v1h-3zM1053 202h1v1h-1zM1054 203h2v1h-2zM1056 204h2v1h-2zM1058 205h2v1h-2zM1060 206h1v1h-1zM1061 207h2v1h-2zM1063 208h2v1h-2zM1065 209h2v1h-2zM1067 210h2v1h-2zM1069 211h2v1h-2zM1071 212h2v1h-2zM1073 213h3v1h-3zM1076 214h6v1h-6zM1082 215h7v1h-7zM1089 214h9v1h-9zM1098 213h4v1h-4zM1102 214h10v1h-10zM1112 215h10v1h-10zM1122 216h7v1h-7zM1129 217h5v1h-5zM1134 218h4v1h-4zM1138 219h4v1h-4zM1142 220h4v1h-4zM1146 221h6v1h-6zM1152 222h12v1h-12zM1164 221h11v1h-11zM1175 220h7v1h-7zM1182 219h7v1h-7zM1189 218h6v1h-6zM1195 217h7v1h-7zM1202 216h2v1h-2z" fill="#0000c8"/>
<path d="M8 423h4v1h-4zM12 422h21v1h-21zM33 423h3v1h-3zM36 424h26v1h-26zM62 425h3v1h-3zM65 426h2v1h-2zM67 427h2v1h-2zM69 428h1v1h-1zM70 429h2v1h-2zM72 430h1v1h-1zM73 431h2v1h-2zM75 432h7v1h-7zM82 433h5v1h-5zM87 434h3v1h-3zM90 435h3v1h-3zM93 436h2v1h-2zM95 437h2v1h-2zM97 438h6v1h-6zM103 439h5v1h-5zM108 438h4v1h-4zM112 437h5v1h-5zM117 438h2v1h-2zM119 439h2v1h-2zM121 440h2v1h-2zM123 441h2v1h-2zM125 442h3v1h-3zM128 443h2v1h-2zM130 444h3v1h-3zM133 445h3v1h-3zM136 446h4v1h-4zM140 447h2v1h-2zM142 448h1v1h-1zM143 449h2v1h-2zM145 450h2v1h-2zM147 451h3v1h-3zM150 452h2v1h-2zM152 453h2v1h-2zM154 454h2v1h-2zM156 455h2v1h-2zM158 456h2v1h-2zM160 457h2v1h-2zM162 458h2v1h-2zM164 459h2v1h-2zM166 460h2v1h-2zM168 461h2v1h-2zM170 462h5v1h-5zM175 463h9v1h-9zM184 462h9v1h-9zM193 461h5v1h-5zM198 460h4v1h-4zM202 459h4v1h-4zM206 458h4v1h-4zM210 457h3v1h-3zM213 458h3v1h-3zM216 459h3v1h-3zM219 460h2v1h-2zM221 461h2v1h-2zM223 462h2v1h-2zM225 463h2v1h-2zM227 464h1v1h-1zM228 465h2v1h-2zM230 466h1v1h-1zM231 467h2v1h-2zM233 468h1v1h-1zM234 469h2v1h-2zM236 470h1v1h-1zM237 471h2v1h-2zM239 472h1v1h-1zM240 473h2v1h-2zM242 474h1v1h-1zM243 475h1v1h-1zM244 476h1v2h-1zM245 478h1v1h-1zM246 479h1v1h-1zM247 480h1v2h-1zM248 482h1v1h-1zM249 483h1v1h-1zM250 484h1v2h-1zM251 486h1v1h-1zM252 487h2v1h-2zM254 488h1v1h-1zM255 489h1v1h-1zM256 490h1v1h-1zM257 491h1v1h-1zM258 492h1v1h-1zM259 493h1v1h-1zM260 494h2v1h-2zM262 495h1v1h-1zM263 496h1v1h-1zM264 497h2v1h-2zM266 498h1v1h-1zM267 499h2v1h-2zM269 500h1v1h-1zM270 501h2v1h-2zM272 502h2v1h-2zM274 503h1v1h-1zM275 504h2v1h-2zM277 505h2v1h-2zM279 506h3v1h-3zM282 507h13v1h-13zM295 506h5v1h-5zM300 505h2v1h-2zM302 504h3v1h-3zM305 503h3v1h-3zM308 502h1v1h-1zM309 501h1v1h-1zM310 500h2v1h-2zM312 499h1v1h-1zM313 498h1v1h-1zM314 497h1v1h-1zM315 496h3v1h-3zM318 495h2v1h-2zM320 494h2v1h-2zM322 493h2v1h-2zM324 492h2v1h-2zM326 491h1v1h-1zM327 490h2v1h-2zM329 489h2v1h-2zM331 488h3v1h-3zM334 487h4v1h-4zM338 486h4v1h-4zM342 485h4v1h-4zM346 484h2v1h-2zM348 485h3v1h-3zM351 486h3v1h-3zM354 487h13v1h-13zM367 488h6v1h-6zM373 487h13v1h-13zM386 488h2v1h-2zM388 487h7v1h-7zM395 486h2v1h-2zM397 485h2v1h-2zM399 484h2v1h-2zM401 483h2v1h-2zM403 482h2v1h-2zM405 481h2v1h-2zM407 480h1v1h-1zM408 479h2v1h-2zM410 478h1v1h-1zM411 477h2v1h-2zM413 476h2v1h-2zM415 475h2v1h-2zM417 474h2v1h-2zM419 473h2v1h-2zM421 472h2v1h-2zM423 471h2v1h-2zM425 470h1v1h-1zM426 469h2v1h-2zM428 468h1v1h-1zM429 467h2v1h-2zM431 466h1v1h-1zM432 465h1v1h-1zM433 464h2v1h-2zM435 463h1v1h-1zM436 462h3v1h-3zM439 461h2v1h-2zM441 460h2v1h-2zM443 459h3v1h-3zM446 458h2v1h-2zM448 457h3v1h-3zM451 456h2v1h-2zM453 455h1v1h-1zM454 454h2v1h-2zM456 453h2v1h-2zM458 452h1v1h-1zM459 451h2v1h-2zM461 450h2v1h-2zM463 449h2v1h-2zM465 448h1v1h-1zM466 447h2v1h-2zM468 446h3v1h-3zM471 445h3v1h-3zM474 444h2v1h-2zM476 443h2v1h-2zM478 442h2v1h-2zM480 441h1v1h-1zM481 440h2v1h-2zM483 439h2v1h-2zM485 438h2v1h-2zM487 437h2v1h-2zM489 436h2v1h-2zM491 435h2v1h-2zM493 434h2v1h-2zM495 433h2v1h-2zM497 432h2v1h-2zM499 431h2v1h-2zM501 430h3v1h-3zM504 429h2v1h-2zM506 428h2v1h-2zM508 427h2v1h-2zM510 426h2v1h-2zM512 425h2v1h-2zM514 424h3v1h-3zM517 423h4v1h-4zM521 422h4v1h-4zM525 421h4v1h-4zM529 420h12v1h-12zM541 421h4v1h-4zM545 422h3v1h-3zM548 423h3v1h-3zM551 424h4v1h-4zM555 425h3v1h-3zM558 426h4v1h-4zM562 427h3v1h-3zM565 428h2v1h-2zM567 429h2v1h-2zM569 430h2v1h-2zM571 431h3v1h-3zM574 432h3v1h-3zM577 433h6v1h-6zM583 434h13v1h-13zM596 435h6v1h-6zM602 436h5v1h-5zM607 437h6v1h-6zM613 438h5v1h-5zM618 439h6v1h-6zM624 438h6v1h-6zM630 437h3v1h-3zM633 436h3v1h-3zM636 435h2v1h-2zM638 434h3v1h-3zM641 433h2v1h-2zM643 432h1v1h-1zM644 431h1v1h-1zM645 430h2v1h-2zM647 429h1v1h-1zM648 428h1v1h-1zM649 427h1v1h-1zM650 426h1v1h-1zM651 425h1v1h-1zM652 424h1v1h-1zM653 422h1v2h-1zM654 421h1v1h-1zM655 419h1v2h-1zM656 418h1v1h-1zM657 416h1v2h-1zM658 415h1v1h-1zM659 414h1v1h-1zM660 413h1v1h-1zM661 412h1v1h-1zM662 411h1v1h-1zM663 410h1v1h-1zM664 409h1v1h-1zM665 408h1v1h-1zM666 407h1v1h-1zM667 406h1v1h-1zM668 405h2v1h-2zM670 404h1v1h-1zM671 403h1v1h-1zM672 402h2v1h-2zM674 401h1v1h-1zM675 400h3v1h-3zM678 399h4v1h-4zM682 398h4v1h-4zM686 397h4v1h-4zM690 396h5v1h-5zM695 397h8v1h-8zM703 396h6v1h-6zM709 395h4v1h-4zM713 394h3v1h-3zM716 393h1v1h-1zM717 391h1v2h-1zM718 390h1v1h-1zM719 389h1v1h-1zM720 387h1v2h-1zM721 386h1v1h-1zM722 385h1v1h-1zM723 383h1v2h-1zM724 380h1v3h-1zM725 378h1v2h-1zM726 375h1v3h-1zM727 373h1v2h-1zM728 370h1v3h-1zM729 367h1v3h-1zM730 365h1v2h-1zM731 362h1v3h-1zM732 360h1v2h-1zM733 358h1v2h-1zM734 355h1v3h-1zM735 353h1v2h-1zM736 351h1v2h-1zM737 348h1v3h-1zM738 346h1v2h-1zM739 343h1v3h-1zM740 340h1v3h-1zM741 337h1v3h-1zM742 334h1v3h-1zM743 331h1v3h-1zM744 328h1v3h-1zM745 325h1v3h-1zM746 322h1v3h-1zM747 319h1v3h-1zM748 315h1v4h-1zM749 311h1v4h-1zM750 307h1v4h-1zM751 303h1v4h-1zM752 299h1v4h-1zM753 296h1v3h-1zM754 292h1v4h-1zM755 288h1v4h-1zM756 285h1v3h-1zM757 283h1v2h-1zM758 280h1v3h-1zM759 277h1v3h-1zM760 274h1v3h-1zM761 272h1v2h-1zM762 269h1v3h-1zM763 267h1v2h-1zM764 266h1v1h-1zM765 264h1v2h-1zM766 263h1v1h-1zM767 262h1v1h-1zM768 260h1v2h-1zM769 259h1v1h-1zM770 258h1v1h-1zM771 255h1v3h-1zM772 252h1v3h-1zM773 249h1v3h-1zM774 246h1v3h-1zM775 243h1v3h-1zM776 240h1v3h-1zM777 237h1v3h-1zM778 234h1v3h-1zM779 231h1v3h-1zM780 226h1v5h-1zM781 222h1v4h-1zM782 217h1v5h-1zM783 213h1v4h-1zM784 208h1v5h-1zM785 204h1v4h-1zM786 199h1v5h-1zM787 195h1v4h-1zM788 192h1v3h-1zM789 189h1v3h-1zM790 186h1v3h-1zM791 182h1v4h-1zM792 179h1v3h-1zM793 176h1v3h-1zM794 173h1v3h-1zM795 169h1v4h-1zM796 166h1v3h-1zM797 163h1v3h-1zM798 160h1v3h-1zM799 157h1v3h-1zM800 154h1v3h-1zM801 151h1v3h-1zM802 148h1v3h-1zM803 145h1v3h-1zM804 142h1v3h-1zM805 139h1v3h-1zM806 136h1v3h-1zM807 133h1v3h-1zM808 130h1v3h-1zM809 127h1v3h-1zM810 124h1v3h-1zM811 121h1v3h-1zM812 119h1v2h-1zM813 116h1v3h-1zM814 114h1v2h-1zM815 112h1v2h-1zM816 109h1v3h-1zM817 107h1v2h-1zM818 105h1v2h-1zM819 103h1v2h-1zM820 103h2v1h-2zM822 104h3v1h-3zM825 105h2v1h-2zM827 106h1v1h-1zM828 107h2v1h-2zM830 108h1v1h-1zM831 109h1v1h-1zM832 110h1v1h-1zM833 111h1v1h-1zM834 112h1v1h-1zM835 113h1v2h-1zM836 115h1v2h-1zM837 117h1v2h-1zM838 119h1v2h-1zM839 121h1v3h-1zM840 124h1v2h-1zM841 126h1v2h-1zM842 128h1v2h-1zM843 130h1v2h-1zM844 132h1v3h-1zM845 135h1v2h-1zM846 137h1v3h-1zM847 140h1v2h-1zM848 142h1v2h-1zM849 144h1v3h-1zM850 147h1v2h-1zM851 149h1v4h-1zM852 153h1v4h-1zM853 157h1v4h-1zM854 161h1v4h-1zM855 165h1v4h-1zM856 169h1v4h-1zM857 173h1v4h-1zM858 177h1v4h-1zM859 181h1v3h-1zM860 184h1v2h-1zM861 186h1v2h-1zM862 188h1v2h-1zM863 190h1v2h-1zM864 192h1v2h-1zM865 194h1v2h-1zM866 196h1v3h-1zM867 199h1v1h-1zM868 200h1v1h-1zM869 201h1v2h-1zM870 203h1v1h-1zM871 204h1v2h-1zM872 206h1v1h-1zM873 207h1v2h-1zM874 209h1v1h-1zM875 210h1v1h-1zM876 209h1v1h-1zM877 208h1v1h-1zM878 206h1v2h-1zM879 205h1v1h-1zM880 204h1v1h-1zM881 203h1v1h-1zM882 201h1v2h-1zM883 200h3v1h-3zM886 199h4v1h-4zM890 198h2v1h-2zM892 197h1v1h-1zM893 196h1v1h-1zM894 194h1v2h-1zM895 193h1v1h-1zM896 192h1v1h-1zM897 190h1v2h-1zM898 189h1v1h-1zM899 188h7v1h-7zM906 189h6v1h-6zM912 188h3v1h-3zM915 188h1v2h-1zM916 190h1v2h-1zM917 192h1v2h-1zM918 194h1v1h-1zM919 195h1v2h-1zM920 197h1v2h-1zM921 199h1v1h-1zM922 200h1v2h-1zM923 202h1v1h-1zM924 203h2v1h-2zM926 204h1v1h-1zM927 205h2v1h-2zM929 206h1v1h-1zM930 207h2v1h-2zM932 208h1v1h-1zM933 209h1v1h-1zM934 210h1v1h-1zM935 211h1v1h-1zM936 212h1v2h-1zM937 214h1v1h-1zM938 215h1v1h-1zM939 216h1v1h-1zM940 217h1v1h-1zM941 218h1v2h-1zM942 220h1v1h-1zM943 221h1v1h-1zM944 222h1v1h-1zM945 223h1v2h-1zM946 225h1v1h-1zM947 226h1v1h-1zM948 227h1v1h-1zM949 228h1v1h-1zM950 229h1v2h-1zM951 231h1v1h-1zM952 232h1v1h-1zM953 233h1v1h-1zM954 234h1v1h-1zM955 235h3v1h-3zM958 236h6v1h-6zM964 237h1v1h-1zM965 238h1v1h-1zM966 239h2v1h-2zM968 240h1v1h-1zM969 241h1v1h-1zM970 242h3v1h-3zM973 241h1v1h-1zM974 240h1v1h-1zM975 239h1v1h-1zM976 238h1v1h-1zM977 237h2v1h-2zM979 236h1v1h-1zM980 235h1v1h-1zM981 233h1v2h-1zM982 232h1v1h-1zM983 231h1v1h-1zM984 230h1v1h-1zM985 229h1v1h-1zM986 227h1v2h-1zM987 226h2v1h-2zM989 225h2v1h-2zM991 224h2v1h-2zM993 223h2v1h-2zM995 222h3v1h-3zM998 221h2v1h-2zM1000 220h2v1h-2zM1002 219h2v1h-2zM1004 218h1v1h-1zM1005 217h1v1h-1zM1006 215h1v2h-1zM1007 214h1v1h-1zM1008 213h1v1h-1zM1009 212h1v1h-1zM1010 211h1v1h-1zM1011 210h1v1h-1zM1012 209h1v1h-1zM1013 208h2v1h-2zM1015 207h1v1h-1zM1016 206h2v1h-2zM1018 205h1v1h-1zM1019 204h2v1h-2zM1021 205h15v1h-15zM1036 204h2v1h-2zM1038 203h2v1h-2zM1040 202h2v1h-2zM1042 201h2v1h-2zM1044 200h4v1h-4zM1048 199h3v1h-3zM1051 198h1v1h-1zM1052 199h1v2h-1zM1053 201h1v1h-1zM1054 202h1v1h-1zM1055 203h1v1h-1zM1056 204h1v1h-1zM1057 205h1v1h-1zM1058 206h1v1h-1zM1059 207h1v1h-1zM1060 208h1v1h-1zM1061 209h1v1h-1zM1062 210h1v1h-1zM1063 211h1v1h-1zM1064 212h1v1h-1zM1065 213h1v1h-1zM1066 214h1v1h-1zM1067 215h2v1h-2zM1069 216h1v1h-1zM1070 217h2v1h-2zM1072 218h1v1h-1zM1073 219h2v1h-2zM1075 220h1v1h-1zM1076 221h1v1h-1zM1077 222h1v2h-1zM1078 224h1v1h-1zM1079 225h1v1h-1zM1080 226h1v2h-1zM1081 228h1v1h-1zM1082 229h1v1h-1zM1083 230h6v1h-6zM1089 231h3v1h-3zM1092 230h4v1h-4zM1096 229h4v1h-4zM1100 228h2v1h-2zM1102 227h1v1h-1zM1103 226h2v1h-2zM1105 225h1v1h-1zM1106 224h2v1h-2zM1108 223h1v1h-1zM1109 222h2v1h-2zM1111 221h1v1h-1zM1112 220h2v1h-2zM1114 219h2v1h-2zM1116 217h1v2h-1zM1117 215h1v2h-1zM1118 214h1v1h-1zM1119 212h1v2h-1zM1120 211h1v1h-1zM1121 209h1v2h-1zM1122 208h1v1h-1zM1123 206h1v2h-1zM1124 207h1v1h-1zM1125 208h1v1h-1zM1126 209h1v1h-1zM1127 210h2v1h-2zM1129 211h1v1h-1zM1130 212h1v1h-1zM1131 213h1v1h-1zM1132 214h1v1h-1zM1133 215h1v1h-1zM1134 216h1v2h-1zM1135 218h1v1h-1zM1136 219h1v1h-1zM1137 220h1v1h-1zM1138 221h1v1h-1zM1139 222h1v1h-1zM1140 223h1v1h-1zM1141 224h1v1h-1zM1142 225h1v1h-1zM1143 226h1v1h-1zM1144 227h1v1h-1zM1145 228h1v1h-1zM1146 229h1v1h-1zM1147 230h9v1h-9zM1156 231h1v1h-1zM1157 232h1v1h-1zM1158 233h1v1h-1zM1159 234h1v1h-1zM1160 235h1v1h-1zM1161 236h1v1h-1zM1162 237h3v1h-3zM1165 236h1v1h-1zM1166 235h1v1h-1zM1167 234h1v1h-1zM1168 233h2v1h-2zM1170 232h1v1h-1zM1171 231h1v1h-1zM1172 230h1v1h-1zM1173 229h1v1h-1zM1174 227h1v2h-1zM1175 226h1v1h-1zM1176 225h1v1h-1zM1177 224h1v1h-1zM1178 223h1v1h-1zM1179 221h1v2h-1zM1180 220h1v1h-1zM1181 219h1v1h-1zM1182 218h1v1h-1zM1183 217h1v1h-1zM1184 216h1v1h-1zM1185 215h1v1h-1zM1186 214h1v1h-1zM1187 213h1v1h-1zM1188 212h2v1h-2zM1190 211h2v1h-2zM1192 210h2v1h-2zM1194 209h2v1h-2zM1196 208h2v1h-2zM1198 207h2v1h-2zM1200 206h2v1h-2zM1202 205h2v1h-2z" fill="#ffa500"/>
</g>
<g shape-rendering="crispEdges">
</g>
<g shape-rendering="crispEdges">
<rect x="2" y="23" width="1517" height="1" fill="#000"/>
<rect x="2" y="528" width="1517" height="1" fill="#000"/>
<rect x="2" y="23" width="1" height="506" fill="#000"/>
<rect x="1518" y="23" width="1" height="506" fill="#000"/>
<rect x="2" y="530" width="1517" height="1" fill="#000"/>
<rect x="2" y="622" width="1517" height="1" fill="#000"/>
<rect x="2" y="530" width="1" height="93" fill="#000"/>
<rect x="1518" y="530" width="1" height="93" fill="#000"/>
<rect x="2" y="624" width="1517" height="1" fill="#000"/>
<rect x="2" y="716" width="1517" height="1" fill="#000"/>
<rect x="2" y="624" width="1" height="93" fill="#000"/>
<rect x="1518" y="624" width="1" height="93" fill="#000"/>
<rect x="1519" y="30" width="2" height="1" fill="#000"/>
<rect x="1519" y="63" width="2" height="1" fill="#000"/>
<rect x="1519" y="96" width="2" height="1" fill="#000"/>
<rect x="1519" y="129" width="2" height="1" fill="#000"/>
<rect x="1519" y="162" width="2" height="1" fill="#000"/>
<rect x="1519" y="195" width="2" height="1" fill="#000"/>
<rect x="1519" y="228" width="2" height="1" fill="#000"/>
<rect x="1519" y="261" width="2" height="1" fill="#000"/>
<rect x="1519" y="294" width="2" height="1" fill="#000"/>
<rect x="1519" y="327" width="2" height="1" fill="#000"/>
<rect x="1519" y="360" width="2" height="1" fill="#000"/>
<rect x="1519" y="393" width="2" height="1" fill="#000"/>
<rect x="1519" y="426" width="2" height="1" fill="#000"/>
<rect x="1519" y="459" width="2" height="1" fill="#000"/>
<rect x="1519" y="492" width="2" height="1" fill="#000"/>
<rect x="1519" y="525" width="2" height="1" fill="#000"/>
<rect x="1519" y="558" width="2" height="1" fill="#000"/>
<rect x="1519" y="594" width="2" height="1" fill="#000"/>
<rect x="1519" y="698" width="2" height="1" fill="#000"/>
<rect x="1519" y="531" width="1" height="1" fill="#000"/>
<rect x="1519" y="621" width="1" height="1" fill="#000"/>
<rect x="1519" y="625" width="1" height="1" fill="#000"/>
<rect x="1519" y="715" width="1" height="1" fill="#000"/>
<rect x="3" y="717" width="1" height="3" fill="#000"/>
<rect x="67" y="717" width="1" height="3" fill="#000"/>
<rect x="131" y="717" width="1" height="3" fill="#000"/>
<rect x="195" y="717" width="1" height="3" fill="#000"/>
<rect x="259" y="717" width="1" height="3" fill="#000"/>
<rect x="323" y="717" width="1" height="3" fill="#000"/>
<rect x="387" y="717" width="1" height="3" fill="#000"/>
<rect x="451" y="717" width="1" height="3" fill="#000"/>
<rect x="515" y="717" width="1" height="3" fill="#000"/>
<rect x="579" y="717" width="1" height="3" fill="#000"/>
<rect x="643" y="717" width="1" height="3" fill="#000"/>
<rect x="707" y="717" width="1" height="3" fill="#000"/>
<rect x="771" y="717" width="1" height="3" fill="#000"/>
<rect x="835" y="717" width="1" height="3" fill="#000"/>
<rect x="899" y="717" width="1" height="3" fill="#000"/>
<rect x="963" y="717" width="1" height="3" fill="#000"/>
<rect x="1027" y="717" width="1" height="3" fill="#000"/>
<rect x="1091" y="717" width="1" height="3" fill="#000"/>
<rect x="1155" y="717" width="1" height="3" fill="#000"/>
</g>
<text x="1524.2" y="33.8" font-size="9.5" fill="#000" stroke="#000" stroke-width="0.15" textLength="33" lengthAdjust="spacingAndGlyphs">1.47340</text>
<text x="1524.2" y="66.8" font-size="9.5" fill="#000" stroke="#000" stroke-width="0.15" textLength="33" lengthAdjust="spacingAndGlyphs">1.46115</text>
<text x="1524.2" y="99.8" font-size="9.5" fill="#000" stroke="#000" stroke-width="0.15" textLength="33" lengthAdjust="spacingAndGlyphs">1.44890</text>
<text x="1524.2" y="132.8" font-size="9.5" fill="#000" stroke="#000" stroke-width="0.15" textLength="33" lengthAdjust="spacingAndGlyphs">1.43665</text>
<text x="1524.2" y="165.8" font-size="9.5" fill="#000" stroke="#000" stroke-width="0.15" textLength="33" lengthAdjust="spacingAndGlyphs">1.42475</text>
<text x="1524.2" y="198.8" font-size="9.5" fill="#000" stroke="#000" stroke-width="0.15" textLength="33" lengthAdjust="spacingAndGlyphs">1.41285</text>
<text x="1524.2" y="231.8" font-size="9.5" fill="#000" stroke="#000" stroke-width="0.15" textLength="33" lengthAdjust="spacingAndGlyphs">1.40060</text>
<text x="1524.2" y="264.8" font-size="9.5" fill="#000" stroke="#000" stroke-width="0.15" textLength="33" lengthAdjust="spacingAndGlyphs">1.38835</text>
<text x="1524.2" y="297.8" font-size="9.5" fill="#000" stroke="#000" stroke-width="0.15" textLength="33" lengthAdjust="spacingAndGlyphs">1.37645</text>
<text x="1524.2" y="330.8" font-size="9.5" fill="#000" stroke="#000" stroke-width="0.15" textLength="33" lengthAdjust="spacingAndGlyphs">1.36420</text>
<text x="1524.2" y="363.8" font-size="9.5" fill="#000" stroke="#000" stroke-width="0.15" textLength="33" lengthAdjust="spacingAndGlyphs">1.35230</text>
<text x="1524.2" y="396.8" font-size="9.5" fill="#000" stroke="#000" stroke-width="0.15" textLength="33" lengthAdjust="spacingAndGlyphs">1.34005</text>
<text x="1524.2" y="429.8" font-size="9.5" fill="#000" stroke="#000" stroke-width="0.15" textLength="33" lengthAdjust="spacingAndGlyphs">1.32780</text>
<text x="1524.2" y="462.8" font-size="9.5" fill="#000" stroke="#000" stroke-width="0.15" textLength="33" lengthAdjust="spacingAndGlyphs">1.31590</text>
<text x="1524.2" y="495.8" font-size="9.5" fill="#000" stroke="#000" stroke-width="0.15" textLength="33" lengthAdjust="spacingAndGlyphs">1.30365</text>
<text x="1524.2" y="528.8" font-size="9.5" fill="#000" stroke="#000" stroke-width="0.15" textLength="33" lengthAdjust="spacingAndGlyphs">1.29175</text>
<g shape-rendering="crispEdges">
<rect x="1520" y="202" width="40" height="11" fill="#000"/>
</g>
<text x="1524.2" y="211.0" font-size="9.5" fill="#fff" stroke="#fff" stroke-width="0.15" textLength="33" lengthAdjust="spacingAndGlyphs">1.40836</text>
<g shape-rendering="crispEdges">
<rect x="3" y="126" width="1515" height="2" fill="#ff0000"/>
<rect x="2" y="124" width="6" height="6" fill="#ff0000"/>
<rect x="4" y="126" width="2" height="2" fill="#fff"/>
<rect x="1512" y="124" width="6" height="6" fill="#ff0000"/>
<rect x="1514" y="126" width="2" height="2" fill="#fff"/>
<rect x="1520" y="121" width="40" height="11" fill="#ff0000"/>
</g>
<text x="1524.2" y="130.3" font-size="9.5" fill="#fff" stroke="#fff" stroke-width="0.15" textLength="33" lengthAdjust="spacingAndGlyphs">1.43780</text>
<g shape-rendering="crispEdges">
<rect x="3" y="201" width="1515" height="2" fill="#ff0000"/>
<rect x="2" y="199" width="6" height="6" fill="#ff0000"/>
<rect x="4" y="201" width="2" height="2" fill="#fff"/>
<rect x="1512" y="199" width="6" height="6" fill="#ff0000"/>
<rect x="1514" y="201" width="2" height="2" fill="#fff"/>
<rect x="1520" y="196" width="40" height="11" fill="#ff0000"/>
</g>
<text x="1524.2" y="205.3" font-size="9.5" fill="#fff" stroke="#fff" stroke-width="0.15" textLength="33" lengthAdjust="spacingAndGlyphs">1.41000</text>
<g shape-rendering="crispEdges">
<rect x="3" y="271" width="1515" height="2" fill="#00ff00"/>
<rect x="2" y="269" width="6" height="6" fill="#00ff00"/>
<rect x="4" y="271" width="2" height="2" fill="#fff"/>
<rect x="1512" y="269" width="6" height="6" fill="#00ff00"/>
<rect x="1514" y="271" width="2" height="2" fill="#fff"/>
<rect x="1520" y="266" width="40" height="11" fill="#00ff00"/>
</g>
<text x="1524.2" y="275.3" font-size="9.5" fill="#fff" stroke="#fff" stroke-width="0.15" textLength="33" lengthAdjust="spacingAndGlyphs">1.38447</text>
<g shape-rendering="crispEdges">
<rect x="3" y="337" width="1515" height="2" fill="#0000ff"/>
<rect x="2" y="335" width="6" height="6" fill="#0000ff"/>
<rect x="4" y="337" width="2" height="2" fill="#fff"/>
<rect x="1512" y="335" width="6" height="6" fill="#0000ff"/>
<rect x="1514" y="337" width="2" height="2" fill="#fff"/>
<rect x="1520" y="332" width="40" height="11" fill="#0000ff"/>
</g>
<text x="1524.2" y="341.3" font-size="9.5" fill="#fff" stroke="#fff" stroke-width="0.15" textLength="33" lengthAdjust="spacingAndGlyphs">1.36029</text>
<g shape-rendering="crispEdges">
<rect x="3" y="419" width="1515" height="2" fill="#0000ff"/>
<rect x="2" y="417" width="6" height="6" fill="#0000ff"/>
<rect x="4" y="419" width="2" height="2" fill="#fff"/>
<rect x="1512" y="417" width="6" height="6" fill="#0000ff"/>
<rect x="1514" y="419" width="2" height="2" fill="#fff"/>
<rect x="1520" y="414" width="40" height="11" fill="#0000ff"/>
</g>
<text x="1524.2" y="423.3" font-size="9.5" fill="#fff" stroke="#fff" stroke-width="0.15" textLength="33" lengthAdjust="spacingAndGlyphs">1.33026</text>
<polygon points="1208.5,24 1218.5,24 1213.5,29.5" fill="#c0c0c0"/>
<polygon points="6,30 13,30 9.5,34" fill="#000"/>
<text x="17.7" y="35" font-size="9.5" fill="#000" stroke="#000" stroke-width="0.15" textLength="65.6" lengthAdjust="spacingAndGlyphs">USDCAD,Daily</text>
<text x="90.0" y="35" font-size="9.5" fill="#000" stroke="#000" stroke-width="0.15" textLength="141.4" lengthAdjust="spacingAndGlyphs">1.40925 1.40957 1.40815 1.40836</text>
<g clip-path="url(#cr)" shape-rendering="crispEdges">
<line x1="3" y1="558.5" x2="1518" y2="558.5" stroke="#c0c0c0" stroke-width="1" stroke-dasharray="3 3" stroke-dashoffset="5"/>
<line x1="3" y1="594.5" x2="1518" y2="594.5" stroke="#c0c0c0" stroke-width="1" stroke-dasharray="3 3" stroke-dashoffset="5"/>
<path d="M3 561h2v1h-2zM5 562h2v1h-2zM7 563h1v1h-1zM8 564h2v1h-2zM10 565h1v1h-1zM11 566h6v1h-6zM17 567h15v1h-15zM32 568h8v1h-8zM40 569h4v1h-4zM44 568h2v1h-2zM46 567h1v1h-1zM47 566h2v1h-2zM49 565h2v1h-2zM51 564h2v1h-2zM53 565h3v1h-3zM56 566h2v1h-2zM58 567h2v1h-2zM60 568h1v2h-1zM61 570h1v2h-1zM62 572h1v1h-1zM63 573h1v2h-1zM64 575h1v1h-1zM65 576h1v2h-1zM66 578h1v2h-1zM67 580h2v1h-2zM69 581h1v1h-1zM70 582h1v1h-1zM71 583h1v1h-1zM72 584h2v1h-2zM74 585h1v1h-1zM75 586h1v1h-1zM76 584h1v2h-1zM77 583h1v1h-1zM78 581h1v2h-1zM79 580h1v1h-1zM80 578h1v2h-1zM81 577h1v1h-1zM82 575h1v2h-1zM83 574h5v1h-5zM88 575h4v1h-4zM92 576h2v1h-2zM94 577h3v1h-3zM97 578h2v1h-2zM99 579h4v1h-4zM103 578h6v1h-6zM109 579h2v1h-2zM111 580h3v1h-3zM114 581h3v1h-3zM117 582h2v1h-2zM119 583h3v1h-3zM122 584h3v1h-3zM125 583h4v1h-4zM129 582h5v1h-5zM134 583h5v1h-5zM139 584h2v1h-2zM141 585h2v1h-2zM143 586h2v1h-2zM145 587h2v1h-2zM147 588h4v1h-4zM151 587h5v1h-5zM156 588h2v1h-2zM158 589h1v1h-1zM159 590h2v1h-2zM161 591h2v1h-2zM163 592h2v1h-2zM165 591h3v1h-3zM168 590h2v1h-2zM170 589h2v1h-2zM172 588h1v1h-1zM173 587h1v1h-1zM174 586h1v1h-1zM175 585h2v1h-2zM177 584h1v1h-1zM178 583h1v1h-1zM179 582h12v1h-12zM191 581h6v1h-6zM197 582h3v1h-3zM200 583h2v1h-2zM202 584h3v1h-3zM205 583h4v1h-4zM209 582h3v1h-3zM212 583h2v1h-2zM214 584h1v1h-1zM215 585h1v1h-1zM216 586h2v1h-2zM218 587h1v1h-1zM219 588h2v1h-2zM221 589h3v1h-3zM224 590h2v1h-2zM226 591h4v1h-4zM230 592h4v1h-4zM234 593h4v1h-4zM238 594h4v1h-4zM242 595h2v1h-2zM244 596h2v1h-2zM246 597h1v1h-1zM247 598h1v1h-1zM248 599h2v1h-2zM250 600h1v1h-1zM251 601h2v1h-2zM253 600h2v1h-2zM255 599h3v1h-3zM258 598h5v1h-5zM263 599h9v1h-9zM272 598h7v1h-7zM279 597h9v1h-9zM288 598h4v1h-4zM292 597h1v1h-1zM293 596h1v1h-1zM294 594h1v2h-1zM295 593h1v1h-1zM296 592h1v1h-1zM297 591h1v1h-1zM298 590h1v1h-1zM299 589h1v1h-1zM300 588h2v1h-2zM302 587h2v1h-2zM304 586h2v1h-2zM306 585h2v1h-2zM308 583h1v2h-1zM309 582h1v1h-1zM310 581h1v1h-1zM311 580h1v1h-1zM312 579h1v1h-1zM313 577h1v2h-1zM314 576h1v1h-1zM315 575h1v1h-1zM316 576h1v1h-1zM317 577h2v1h-2zM319 578h1v1h-1zM320 579h2v1h-2zM322 580h1v1h-1zM323 581h4v1h-4zM327 580h9v1h-9zM336 581h5v1h-5zM341 580h4v1h-4zM345 579h5v1h-5zM350 580h5v1h-5zM355 581h6v1h-6zM361 582h4v1h-4zM365 581h3v1h-3zM368 580h2v1h-2zM370 579h6v1h-6zM376 578h8v1h-8zM384 579h7v1h-7zM391 578h5v1h-5zM396 577h1v1h-1zM397 576h1v1h-1zM398 575h1v1h-1zM399 573h1v2h-1zM400 572h1v1h-1zM401 571h1v1h-1zM402 570h1v1h-1zM403 569h2v1h-2zM405 568h2v1h-2zM407 567h3v1h-3zM410 566h6v1h-6zM416 567h12v1h-12zM428 566h2v1h-2zM430 565h2v1h-2zM432 564h1v1h-1zM433 563h2v1h-2zM435 562h10v1h-10zM445 561h2v1h-2zM447 560h3v1h-3zM450 559h3v1h-3zM453 558h4v1h-4zM457 557h14v1h-14zM471 556h6v1h-6zM477 555h3v1h-3zM480 554h2v1h-2zM482 553h6v1h-6zM488 552h7v1h-7zM495 551h16v1h-16zM511 550h7v1h-7zM518 551h4v1h-4zM522 552h3v1h-3zM525 551h4v1h-4zM529 550h3v1h-3zM532 551h1v1h-1zM533 552h1v1h-1zM534 553h1v1h-1zM535 554h1v1h-1zM536 555h1v1h-1zM537 556h1v1h-1zM538 557h1v2h-1zM539 559h1v1h-1zM540 560h1v1h-1zM541 561h1v1h-1zM542 562h1v1h-1zM543 563h1v1h-1zM544 564h1v1h-1zM545 565h1v1h-1zM546 566h1v1h-1zM547 567h5v1h-5zM552 568h7v1h-7zM559 567h7v1h-7zM566 568h5v1h-5zM571 569h3v1h-3zM574 570h2v1h-2zM576 571h3v1h-3zM579 572h2v1h-2zM581 571h2v1h-2zM583 570h3v1h-3zM586 569h3v1h-3zM589 570h2v1h-2zM591 571h2v1h-2zM593 572h2v1h-2zM595 573h4v1h-4zM599 574h3v1h-3zM602 575h6v1h-6zM608 576h5v1h-5zM613 577h2v1h-2zM615 578h2v1h-2zM617 579h2v1h-2zM619 580h1v1h-1zM620 578h1v2h-1zM621 577h1v1h-1zM622 575h1v2h-1zM623 574h1v1h-1zM624 572h1v2h-1zM625 571h1v1h-1zM626 569h1v2h-1zM627 568h2v1h-2zM629 567h2v1h-2zM631 566h3v1h-3zM634 565h3v1h-3zM637 564h4v1h-4zM641 563h3v1h-3zM644 562h1v1h-1zM645 561h1v1h-1zM646 560h2v1h-2zM648 559h1v1h-1zM649 558h1v1h-1zM650 557h1v1h-1zM651 556h2v1h-2zM653 555h2v1h-2zM655 554h1v1h-1zM656 553h2v1h-2zM658 552h3v1h-3zM661 553h2v1h-2zM663 554h2v1h-2zM665 555h2v1h-2zM667 556h3v1h-3zM670 557h2v1h-2zM672 558h2v1h-2zM674 559h2v1h-2zM676 560h1v1h-1zM677 561h1v1h-1zM678 562h1v1h-1zM679 563h1v1h-1zM680 564h1v1h-1zM681 565h1v1h-1zM682 566h1v2h-1zM683 568h1v1h-1zM684 567h1v1h-1zM685 566h1v1h-1zM686 565h2v1h-2zM688 564h1v1h-1zM689 563h2v1h-2zM691 562h9v1h-9zM700 561h5v1h-5zM705 560h11v1h-11zM716 559h1v1h-1zM717 558h1v1h-1zM718 557h1v1h-1zM719 556h1v1h-1zM720 555h1v1h-1zM721 554h1v1h-1zM722 553h2v1h-2zM724 551h1v2h-1zM725 550h1v1h-1zM726 549h1v1h-1zM727 548h1v1h-1zM728 547h1v1h-1zM729 546h1v1h-1zM730 545h1v1h-1zM731 544h2v1h-2zM733 545h2v1h-2zM735 546h2v1h-2zM737 547h2v1h-2zM739 548h2v1h-2zM741 547h2v1h-2zM743 546h3v1h-3zM746 545h3v1h-3zM749 544h4v1h-4zM753 543h3v1h-3zM756 544h2v1h-2zM758 545h1v1h-1zM759 546h1v1h-1zM760 547h2v1h-2zM762 548h1v1h-1zM763 549h3v1h-3zM766 548h6v1h-6zM772 547h2v1h-2zM774 546h2v1h-2zM776 545h2v1h-2zM778 544h3v1h-3zM781 543h2v1h-2zM783 542h3v1h-3zM786 541h3v1h-3zM789 542h2v1h-2zM791 543h2v1h-2zM793 544h2v1h-2zM795 545h2v1h-2zM797 546h1v1h-1zM798 547h1v1h-1zM799 548h1v1h-1zM800 549h2v1h-2zM802 550h1v1h-1zM803 551h4v1h-4zM807 550h8v1h-8zM815 549h6v1h-6zM821 550h3v1h-3zM824 551h2v1h-2zM826 552h2v1h-2zM828 553h1v1h-1zM829 554h1v1h-1zM830 555h1v1h-1zM831 556h1v1h-1zM832 557h1v1h-1zM833 558h1v1h-1zM834 559h1v2h-1zM835 561h1v1h-1zM836 562h1v2h-1zM837 564h1v1h-1zM838 565h1v2h-1zM839 567h1v1h-1zM840 568h1v2h-1zM841 570h1v1h-1zM842 571h1v2h-1zM843 573h4v1h-4zM847 572h5v1h-5zM852 573h2v1h-2zM854 574h2v1h-2zM856 575h1v1h-1zM857 576h2v1h-2zM859 577h1v1h-1zM860 576h1v1h-1zM861 575h1v1h-1zM862 574h1v1h-1zM863 573h2v1h-2zM865 572h1v1h-1zM866 571h1v1h-1zM867 570h3v1h-3zM870 571h4v1h-4zM874 572h3v1h-3zM877 571h2v1h-2zM879 570h3v1h-3zM882 569h3v1h-3zM885 570h2v1h-2zM887 571h2v1h-2zM889 572h2v1h-2zM891 573h4v1h-4zM895 572h8v1h-8zM903 571h7v1h-7zM910 572h4v1h-4zM914 573h2v1h-2zM916 574h2v1h-2zM918 575h2v1h-2zM920 576h1v1h-1zM921 577h2v1h-2zM923 578h4v1h-4zM927 577h9v1h-9zM936 578h8v1h-8zM944 579h22v1h-22zM966 580h4v1h-4zM970 581h2v1h-2zM972 580h1v1h-1zM973 579h1v1h-1zM974 578h1v1h-1zM975 576h1v2h-1zM976 575h1v1h-1zM977 574h1v1h-1zM978 573h1v1h-1zM979 572h4v1h-4zM983 571h5v1h-5zM988 572h2v1h-2zM990 573h2v1h-2zM992 574h1v1h-1zM993 575h2v1h-2zM995 576h10v1h-10zM1005 575h4v1h-4zM1009 574h3v1h-3zM1012 573h2v1h-2zM1014 572h1v1h-1zM1015 571h2v1h-2zM1017 570h2v1h-2zM1019 569h2v1h-2zM1021 570h3v1h-3zM1024 571h2v1h-2zM1026 572h2v1h-2zM1028 573h2v1h-2zM1030 574h2v1h-2zM1032 575h1v1h-1zM1033 576h2v1h-2zM1035 577h2v1h-2zM1037 576h2v1h-2zM1039 575h3v1h-3zM1042 574h11v1h-11zM1053 575h3v1h-3zM1056 576h2v1h-2zM1058 577h4v1h-4zM1062 578h4v1h-4zM1066 579h3v1h-3zM1069 580h3v1h-3zM1072 581h2v1h-2zM1074 582h6v1h-6zM1080 583h4v1h-4zM1084 582h1v1h-1zM1085 580h1v2h-1zM1086 579h1v1h-1zM1087 578h1v1h-1zM1088 577h1v1h-1zM1089 575h1v2h-1zM1090 574h1v1h-1zM1091 573h3v1h-3zM1094 574h4v1h-4zM1098 575h5v1h-5zM1103 574h6v1h-6zM1109 575h3v1h-3zM1112 576h2v1h-2zM1114 577h2v1h-2zM1116 576h2v1h-2zM1118 575h1v1h-1zM1119 574h2v1h-2zM1121 573h2v1h-2zM1123 572h1v1h-1zM1124 573h1v1h-1zM1125 574h1v1h-1zM1126 575h1v1h-1zM1127 576h1v1h-1zM1128 577h1v1h-1zM1129 578h1v1h-1zM1130 579h1v1h-1zM1131 580h3v1h-3zM1134 581h4v1h-4zM1138 582h5v1h-5zM1143 581h5v1h-5zM1148 580h2v1h-2zM1150 579h2v1h-2zM1152 578h2v1h-2zM1154 577h10v1h-10zM1164 576h2v1h-2zM1166 575h2v1h-2zM1168 574h2v1h-2zM1170 573h6v1h-6zM1176 574h7v1h-7zM1183 573h17v1h-17zM1200 574h4v1h-4z" fill="#1e90ff"/>
</g>
<text x="6.8" y="543" font-size="9.5" fill="#000" stroke="#000" stroke-width="0.15" textLength="68.8" lengthAdjust="spacingAndGlyphs">RSI(14) 52.7296</text>
<text x="1521.8" y="541" font-size="9.5" fill="#000" stroke="#000" stroke-width="0.15">100</text>
<text x="1521.8" y="562.2" font-size="9.5" fill="#000" stroke="#000" stroke-width="0.15">70</text>
<text x="1521.8" y="598" font-size="9.5" fill="#000" stroke="#000" stroke-width="0.15">30</text>
<text x="1521.8" y="619" font-size="9.5" fill="#000" stroke="#000" stroke-width="0.15">0</text>
<g clip-path="url(#cd)" shape-rendering="crispEdges">
<rect x="3" y="692" width="1" height="7" fill="#c0c0c0"/>
<rect x="11" y="692" width="1" height="7" fill="#c0c0c0"/>
<rect x="19" y="692" width="1" height="7" fill="#c0c0c0"/>
<rect x="27" y="692" width="1" height="7" fill="#c0c0c0"/>
<rect x="35" y="692" width="1" height="7" fill="#c0c0c0"/>
<rect x="43" y="692" width="1" height="7" fill="#c0c0c0"/>
<rect x="51" y="692" width="1" height="7" fill="#c0c0c0"/>
<rect x="59" y="692" width="1" height="7" fill="#c0c0c0"/>
<rect x="67" y="694" width="1" height="5" fill="#c0c0c0"/>
<rect x="75" y="696" width="1" height="3" fill="#c0c0c0"/>
<rect x="83" y="696" width="1" height="3" fill="#c0c0c0"/>
<rect x="91" y="696" width="1" height="3" fill="#c0c0c0"/>
<rect x="99" y="697" width="1" height="2" fill="#c0c0c0"/>
<rect x="139" y="698" width="1" height="2" fill="#c0c0c0"/>
<rect x="147" y="698" width="1" height="3" fill="#c0c0c0"/>
<rect x="155" y="698" width="1" height="3" fill="#c0c0c0"/>
<rect x="163" y="698" width="1" height="5" fill="#c0c0c0"/>
<rect x="171" y="698" width="1" height="4" fill="#c0c0c0"/>
<rect x="179" y="698" width="1" height="4" fill="#c0c0c0"/>
<rect x="187" y="698" width="1" height="4" fill="#c0c0c0"/>
<rect x="195" y="698" width="1" height="4" fill="#c0c0c0"/>
<rect x="203" y="698" width="1" height="4" fill="#c0c0c0"/>
<rect x="211" y="698" width="1" height="3" fill="#c0c0c0"/>
<rect x="219" y="698" width="1" height="5" fill="#c0c0c0"/>
<rect x="227" y="698" width="1" height="6" fill="#c0c0c0"/>
<rect x="235" y="698" width="1" height="7" fill="#c0c0c0"/>
<rect x="243" y="698" width="1" height="7" fill="#c0c0c0"/>
<rect x="251" y="698" width="1" height="8" fill="#c0c0c0"/>
<rect x="259" y="698" width="1" height="10" fill="#c0c0c0"/>
<rect x="267" y="698" width="1" height="12" fill="#c0c0c0"/>
<rect x="275" y="698" width="1" height="12" fill="#c0c0c0"/>
<rect x="283" y="698" width="1" height="12" fill="#c0c0c0"/>
<rect x="291" y="698" width="1" height="12" fill="#c0c0c0"/>
<rect x="299" y="698" width="1" height="12" fill="#c0c0c0"/>
<rect x="307" y="698" width="1" height="11" fill="#c0c0c0"/>
<rect x="315" y="698" width="1" height="10" fill="#c0c0c0"/>
<rect x="323" y="698" width="1" height="8" fill="#c0c0c0"/>
<rect x="331" y="698" width="1" height="8" fill="#c0c0c0"/>
<rect x="339" y="698" width="1" height="7" fill="#c0c0c0"/>
<rect x="347" y="698" width="1" height="6" fill="#c0c0c0"/>
<rect x="355" y="698" width="1" height="5" fill="#c0c0c0"/>
<rect x="363" y="698" width="1" height="5" fill="#c0c0c0"/>
<rect x="371" y="698" width="1" height="5" fill="#c0c0c0"/>
<rect x="379" y="698" width="1" height="4" fill="#c0c0c0"/>
<rect x="387" y="698" width="1" height="4" fill="#c0c0c0"/>
<rect x="395" y="698" width="1" height="3" fill="#c0c0c0"/>
<rect x="403" y="698" width="1" height="2" fill="#c0c0c0"/>
<rect x="427" y="697" width="1" height="2" fill="#c0c0c0"/>
<rect x="435" y="696" width="1" height="3" fill="#c0c0c0"/>
<rect x="443" y="695" width="1" height="4" fill="#c0c0c0"/>
<rect x="451" y="693" width="1" height="6" fill="#c0c0c0"/>
<rect x="459" y="692" width="1" height="7" fill="#c0c0c0"/>
<rect x="467" y="691" width="1" height="8" fill="#c0c0c0"/>
<rect x="475" y="690" width="1" height="9" fill="#c0c0c0"/>
<rect x="483" y="689" width="1" height="10" fill="#c0c0c0"/>
<rect x="491" y="688" width="1" height="11" fill="#c0c0c0"/>
<rect x="499" y="687" width="1" height="12" fill="#c0c0c0"/>
<rect x="507" y="687" width="1" height="12" fill="#c0c0c0"/>
<rect x="515" y="686" width="1" height="13" fill="#c0c0c0"/>
<rect x="523" y="686" width="1" height="13" fill="#c0c0c0"/>
<rect x="531" y="686" width="1" height="13" fill="#c0c0c0"/>
<rect x="539" y="686" width="1" height="13" fill="#c0c0c0"/>
<rect x="547" y="687" width="1" height="12" fill="#c0c0c0"/>
<rect x="555" y="688" width="1" height="11" fill="#c0c0c0"/>
<rect x="563" y="689" width="1" height="10" fill="#c0c0c0"/>
<rect x="571" y="690" width="1" height="9" fill="#c0c0c0"/>
<rect x="579" y="691" width="1" height="8" fill="#c0c0c0"/>
<rect x="587" y="691" width="1" height="8" fill="#c0c0c0"/>
<rect x="595" y="692" width="1" height="7" fill="#c0c0c0"/>
<rect x="603" y="693" width="1" height="6" fill="#c0c0c0"/>
<rect x="611" y="694" width="1" height="5" fill="#c0c0c0"/>
<rect x="619" y="695" width="1" height="4" fill="#c0c0c0"/>
<rect x="627" y="695" width="1" height="4" fill="#c0c0c0"/>
<rect x="635" y="694" width="1" height="5" fill="#c0c0c0"/>
<rect x="643" y="694" width="1" height="5" fill="#c0c0c0"/>
<rect x="651" y="692" width="1" height="7" fill="#c0c0c0"/>
<rect x="659" y="690" width="1" height="9" fill="#c0c0c0"/>
<rect x="667" y="689" width="1" height="10" fill="#c0c0c0"/>
<rect x="675" y="688" width="1" height="11" fill="#c0c0c0"/>
<rect x="683" y="689" width="1" height="10" fill="#c0c0c0"/>
<rect x="691" y="688" width="1" height="11" fill="#c0c0c0"/>
<rect x="699" y="688" width="1" height="11" fill="#c0c0c0"/>
<rect x="707" y="687" width="1" height="12" fill="#c0c0c0"/>
<rect x="715" y="687" width="1" height="12" fill="#c0c0c0"/>
<rect x="723" y="685" width="1" height="14" fill="#c0c0c0"/>
<rect x="731" y="679" width="1" height="20" fill="#c0c0c0"/>
<rect x="739" y="675" width="1" height="24" fill="#c0c0c0"/>
<rect x="747" y="671" width="1" height="28" fill="#c0c0c0"/>
<rect x="755" y="665" width="1" height="34" fill="#c0c0c0"/>
<rect x="763" y="662" width="1" height="37" fill="#c0c0c0"/>
<rect x="771" y="659" width="1" height="40" fill="#c0c0c0"/>
<rect x="779" y="654" width="1" height="45" fill="#c0c0c0"/>
<rect x="787" y="644" width="1" height="55" fill="#c0c0c0"/>
<rect x="795" y="638" width="1" height="61" fill="#c0c0c0"/>
<rect x="803" y="636" width="1" height="63" fill="#c0c0c0"/>
<rect x="811" y="634" width="1" height="65" fill="#c0c0c0"/>
<rect x="819" y="631" width="1" height="68" fill="#c0c0c0"/>
<rect x="827" y="631" width="1" height="68" fill="#c0c0c0"/>
<rect x="835" y="634" width="1" height="65" fill="#c0c0c0"/>
<rect x="843" y="642" width="1" height="57" fill="#c0c0c0"/>
<rect x="851" y="648" width="1" height="51" fill="#c0c0c0"/>
<rect x="859" y="656" width="1" height="43" fill="#c0c0c0"/>
<rect x="867" y="659" width="1" height="40" fill="#c0c0c0"/>
<rect x="875" y="663" width="1" height="36" fill="#c0c0c0"/>
<rect x="883" y="664" width="1" height="35" fill="#c0c0c0"/>
<rect x="891" y="667" width="1" height="32" fill="#c0c0c0"/>
<rect x="899" y="670" width="1" height="29" fill="#c0c0c0"/>
<rect x="907" y="672" width="1" height="27" fill="#c0c0c0"/>
<rect x="915" y="674" width="1" height="25" fill="#c0c0c0"/>
<rect x="923" y="679" width="1" height="20" fill="#c0c0c0"/>
<rect x="931" y="683" width="1" height="16" fill="#c0c0c0"/>
<rect x="939" y="686" width="1" height="13" fill="#c0c0c0"/>
<rect x="947" y="689" width="1" height="10" fill="#c0c0c0"/>
<rect x="955" y="692" width="1" height="7" fill="#c0c0c0"/>
<rect x="963" y="694" width="1" height="5" fill="#c0c0c0"/>
<rect x="971" y="696" width="1" height="3" fill="#c0c0c0"/>
<rect x="979" y="695" width="1" height="4" fill="#c0c0c0"/>
<rect x="987" y="693" width="1" height="6" fill="#c0c0c0"/>
<rect x="995" y="694" width="1" height="5" fill="#c0c0c0"/>
<rect x="1003" y="695" width="1" height="4" fill="#c0c0c0"/>
<rect x="1011" y="695" width="1" height="4" fill="#c0c0c0"/>
<rect x="1019" y="693" width="1" height="6" fill="#c0c0c0"/>
<rect x="1027" y="691" width="1" height="8" fill="#c0c0c0"/>
<rect x="1035" y="693" width="1" height="6" fill="#c0c0c0"/>
<rect x="1043" y="693" width="1" height="6" fill="#c0c0c0"/>
<rect x="1051" y="693" width="1" height="6" fill="#c0c0c0"/>
<rect x="1059" y="694" width="1" height="5" fill="#c0c0c0"/>
<rect x="1067" y="696" width="1" height="3" fill="#c0c0c0"/>
<rect x="1107" y="697" width="1" height="2" fill="#c0c0c0"/>
<rect x="1123" y="696" width="1" height="3" fill="#c0c0c0"/>
<rect x="1147" y="698" width="1" height="3" fill="#c0c0c0"/>
<rect x="1155" y="698" width="1" height="2" fill="#c0c0c0"/>
<rect x="1163" y="698" width="1" height="2" fill="#c0c0c0"/>
<rect x="1187" y="697" width="1" height="2" fill="#c0c0c0"/>
<rect x="1195" y="696" width="1" height="3" fill="#c0c0c0"/>
<rect x="1203" y="696" width="1" height="3" fill="#c0c0c0"/>
<polyline points="3.5,693.9 27.5,691.9 67.5,691.9 91.5,693.9 107.5,694.5 123.5,695.3 131.5,696.5 139.5,697.9 163.5,699.9 195.5,702.5 227.5,703.9 251.5,704.9 267.5,706.9 283.5,708.9 307.5,710.3 323.5,710.9 347.5,709.5 371.5,706.9 387.5,704.9 411.5,703.5 435.5,700.1 459.5,696.9 483.5,693.9 499.5,690.9 515.5,689.5 531.5,687.5 547.5,686.9 579.5,686.9 595.5,688.9 603.5,689.9 619.5,691.9 635.5,692.9 667.5,692.9 675.5,691.9 691.5,690.9 707.5,689.5 723.5,688.1 731.5,686.9 739.5,684.1 747.5,682.9 755.5,680.9 763.5,678.5 771.5,674.5 779.5,670.9 787.5,666.5 795.5,660.5 803.5,656.5 811.5,650.5 819.5,646.5 827.5,642.9 835.5,640.1 843.5,638.1 851.5,637.1 859.5,638.5 867.5,640.9 875.5,643.9 883.5,646.9 891.5,651.5 899.5,656.0 907.5,660.1 915.5,663.9 923.5,666.9 931.5,669.5 939.5,672.5 947.5,675.9 955.5,678.9 963.5,681.9 971.5,684.5 979.5,687.5 987.5,689.9 995.5,690.9 1003.5,692.5 1011.5,693.9 1043.5,692.9 1067.5,692.9 1075.5,693.9 1091.5,694.9 1099.5,695.9 1123.5,696.9 1139.5,697.9 1147.5,698.9 1195.5,698.9" fill="none" stroke="#ff0000" stroke-width="1" stroke-dasharray="3 3"/>
</g>
<text x="6.6" y="637" font-size="9.5" fill="#000" stroke="#000" stroke-width="0.15" textLength="152" lengthAdjust="spacingAndGlyphs">MACD(12,26,9) 0.001169 -0.000260</text>
<text x="1521.8" y="635" font-size="9.5" fill="#000" stroke="#000" stroke-width="0.15" textLength="39.5" lengthAdjust="spacingAndGlyphs">0.032493</text>
<text x="1521.8" y="702" font-size="9.5" fill="#000" stroke="#000" stroke-width="0.15">0.00</text>
<text x="1521.8" y="713.5" font-size="9.5" fill="#000" stroke="#000" stroke-width="0.15" textLength="42.5" lengthAdjust="spacingAndGlyphs">-0.008086</text>
<text x="1.8" y="729" font-size="9.5" fill="#000" stroke="#000" stroke-width="0.15" textLength="54.5" lengthAdjust="spacingAndGlyphs">25 Nov 2019</text>
<text x="65.8" y="729" font-size="9.5" fill="#000" stroke="#000" stroke-width="0.15" textLength="47.7" lengthAdjust="spacingAndGlyphs">4 Dec 2019</text>
<text x="129.8" y="729" font-size="9.5" fill="#000" stroke="#000" stroke-width="0.15" textLength="52.2" lengthAdjust="spacingAndGlyphs">13 Dec 2019</text>
<text x="193.8" y="729" font-size="9.5" fill="#000" stroke="#000" stroke-width="0.15" textLength="52.6" lengthAdjust="spacingAndGlyphs">23 Dec 2019</text>
<text x="257.8" y="729" font-size="9.5" fill="#000" stroke="#000" stroke-width="0.15" textLength="45.2" lengthAdjust="spacingAndGlyphs">1 Jan 2020</text>
<text x="321.8" y="729" font-size="9.5" fill="#000" stroke="#000" stroke-width="0.15" textLength="50.0" lengthAdjust="spacingAndGlyphs">10 Jan 2020</text>
<text x="385.8" y="729" font-size="9.5" fill="#000" stroke="#000" stroke-width="0.15" textLength="51.0" lengthAdjust="spacingAndGlyphs">20 Jan 2020</text>
<text x="449.8" y="729" font-size="9.5" fill="#000" stroke="#000" stroke-width="0.15" textLength="51.0" lengthAdjust="spacingAndGlyphs">29 Jan 2020</text>
<text x="513.8" y="729" font-size="9.5" fill="#000" stroke="#000" stroke-width="0.15" textLength="47.7" lengthAdjust="spacingAndGlyphs">7 Feb 2020</text>
<text x="577.8" y="729" font-size="9.5" fill="#000" stroke="#000" stroke-width="0.15" textLength="52.0" lengthAdjust="spacingAndGlyphs">17 Feb 2020</text>
<text x="641.8" y="729" font-size="9.5" fill="#000" stroke="#000" stroke-width="0.15" textLength="52.7" lengthAdjust="spacingAndGlyphs">26 Feb 2020</text>
<text x="705.8" y="729" font-size="9.5" fill="#000" stroke="#000" stroke-width="0.15" textLength="47.0" lengthAdjust="spacingAndGlyphs">6 Mar 2020</text>
<text x="769.8" y="729" font-size="9.5" fill="#000" stroke="#000" stroke-width="0.15" textLength="52.0" lengthAdjust="spacingAndGlyphs">16 Mar 2020</text>
<text x="833.8" y="729" font-size="9.5" fill="#000" stroke="#000" stroke-width="0.15" textLength="52.7" lengthAdjust="spacingAndGlyphs">25 Mar 2020</text>
<text x="897.8" y="729" font-size="9.5" fill="#000" stroke="#000" stroke-width="0.15" textLength="46.0" lengthAdjust="spacingAndGlyphs">3 Apr 2020</text>
<text x="961.8" y="729" font-size="9.5" fill="#000" stroke="#000" stroke-width="0.15" textLength="51.0" lengthAdjust="spacingAndGlyphs">13 Apr 2020</text>
<text x="1025.8" y="729" font-size="9.5" fill="#000" stroke="#000" stroke-width="0.15" textLength="51.0" lengthAdjust="spacingAndGlyphs">22 Apr 2020</text>
<text x="1089.8" y="729" font-size="9.5" fill="#000" stroke="#000" stroke-width="0.15" textLength="50.3" lengthAdjust="spacingAndGlyphs">1 May 2020</text>
<text x="1153.8" y="729" font-size="9.5" fill="#000" stroke="#000" stroke-width="0.15" textLength="55.3" lengthAdjust="spacingAndGlyphs">11 May 2020</text>
<g shape-rendering="crispEdges">
<rect x="0" y="738" width="1560" height="1" fill="#e3e3e3"/>
<rect x="0" y="739" width="1560" height="1" fill="#000"/>
<rect x="0" y="740" width="1560" height="18" fill="#f0f0f0"/>
<rect x="312" y="739" width="104" height="19" fill="#000"/>
<rect x="313" y="739" width="102" height="18" fill="#fff"/>
<rect x="108" y="742" width="1" height="14" fill="#5a5a5a"/>
<rect x="208" y="742" width="1" height="14" fill="#5a5a5a"/>
<rect x="520" y="742" width="1" height="14" fill="#5a5a5a"/>
<rect x="625" y="742" width="1" height="14" fill="#5a5a5a"/>
<rect x="728" y="742" width="1" height="14" fill="#5a5a5a"/>
<rect x="828" y="742" width="1" height="14" fill="#5a5a5a"/>
<rect x="900" y="742" width="1" height="14" fill="#5a5a5a"/>
<rect x="980" y="742" width="1" height="14" fill="#5a5a5a"/>
<rect x="1060" y="742" width="1" height="14" fill="#5a5a5a"/>
<rect x="1140" y="742" width="1" height="14" fill="#5a5a5a"/>
<rect x="1216" y="742" width="1" height="14" fill="#5a5a5a"/>
<rect x="1288" y="742" width="1" height="14" fill="#5a5a5a"/>
<rect x="1372" y="742" width="1" height="14" fill="#5a5a5a"/>
<rect x="1440" y="742" width="1" height="14" fill="#5a5a5a"/>
<polygon points="1537.5,745 1537.5,752 1533.5,748.5" fill="#a0a0a0" shape-rendering="auto"/>
<polygon points="1553,745 1553,752 1557,748.5" fill="#a0a0a0" shape-rendering="auto"/>
</g>
<text x="15.4" y="753.6" font-size="12" fill="#6e6e6e"  textLength="81.2" lengthAdjust="spacingAndGlyphs">EURUSD,Daily</text>
<text x="117.7" y="753.6" font-size="12" fill="#6e6e6e"  textLength="80.6" lengthAdjust="spacingAndGlyphs">USDCHF,Daily</text>
<text x="217.7" y="753.6" font-size="12" fill="#6e6e6e"  textLength="84.1" lengthAdjust="spacingAndGlyphs">AUDUSD,Daily</text>
<text x="322.5" y="753.6" font-size="12" fill="#000"  textLength="82.0" lengthAdjust="spacingAndGlyphs">USDCAD,Daily</text>
<text x="425.2" y="753.6" font-size="12" fill="#6e6e6e"  textLength="84.6" lengthAdjust="spacingAndGlyphs">USDCNH,Daily</text>
<text x="531.5" y="753.6" font-size="12" fill="#6e6e6e"  textLength="81.0" lengthAdjust="spacingAndGlyphs">EURUSD,Daily</text>
<text x="635.2" y="753.6" font-size="12" fill="#6e6e6e"  textLength="81.6" lengthAdjust="spacingAndGlyphs">GBPUSD,Daily</text>
<text x="736.9" y="753.6" font-size="12" fill="#6e6e6e"  textLength="80.6" lengthAdjust="spacingAndGlyphs">XAUUSD,M30</text>
<text x="838.5" y="753.6" font-size="12" fill="#6e6e6e"  textLength="50.6" lengthAdjust="spacingAndGlyphs">HK50,H1</text>
<text x="910.2" y="753.6" font-size="12" fill="#6e6e6e"  textLength="58.3" lengthAdjust="spacingAndGlyphs">UK100,H1</text>
<text x="990.2" y="753.6" font-size="12" fill="#6e6e6e"  textLength="58.3" lengthAdjust="spacingAndGlyphs">UK100,H1</text>
<text x="1070.2" y="753.6" font-size="12" fill="#6e6e6e"  textLength="58.3" lengthAdjust="spacingAndGlyphs">GER30,H1</text>
<text x="1149.2" y="753.6" font-size="12" fill="#6e6e6e"  textLength="55.9" lengthAdjust="spacingAndGlyphs">FRA40,H1</text>
<text x="1225.9" y="753.6" font-size="12" fill="#6e6e6e"  textLength="51.6" lengthAdjust="spacingAndGlyphs">USOil,H4</text>
<text x="1297.5" y="753.6" font-size="12" fill="#6e6e6e"  textLength="64.0" lengthAdjust="spacingAndGlyphs">USDJPY,H1</text>
<text x="1382.0" y="753.6" font-size="12" fill="#6e6e6e"  textLength="47.1" lengthAdjust="spacingAndGlyphs">DJ30,H1</text>
</svg>
</body></html>
